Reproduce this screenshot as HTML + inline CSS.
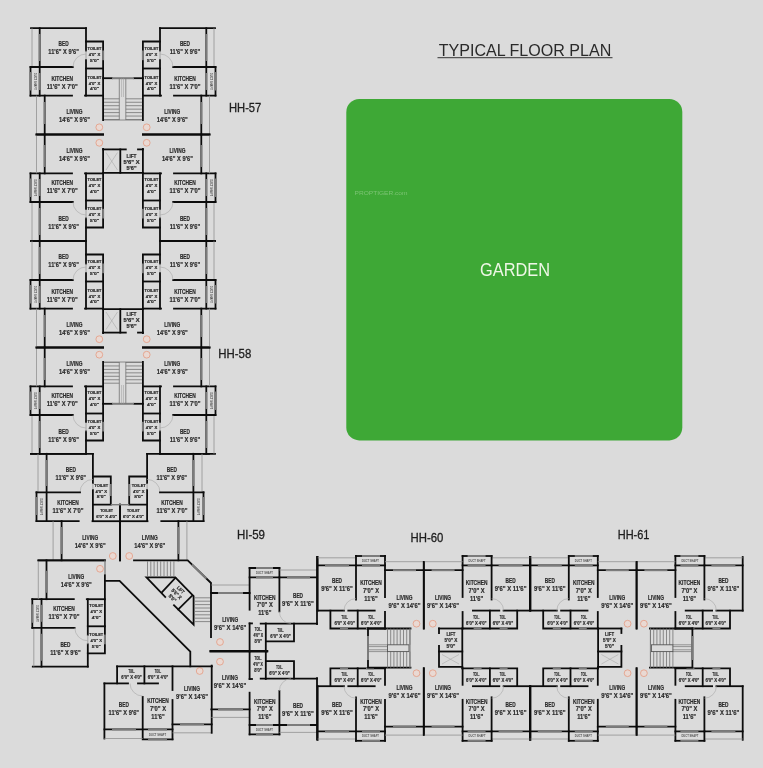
<!DOCTYPE html>
<html><head><meta charset="utf-8"><style>
html,body{margin:0;padding:0;background:#dbdbdb;}
body{width:763px;height:768px;position:relative;overflow:hidden;font-family:"Liberation Sans",sans-serif;}
svg{position:absolute;left:0;top:0;will-change:transform;}
svg text{font-family:"Liberation Sans",sans-serif;}
</style></head><body>
<svg width="763" height="768" viewBox="0 0 763 768">
<rect x="0" y="0" width="763" height="768" fill="#dbdbdb"/>
<rect x="346.3" y="98.9" width="336" height="341.5" rx="13" ry="13" fill="#3ea836"/>
<text x="515" y="275.8" font-size="17.5" fill="#eef7e6" text-anchor="middle" textLength="70" lengthAdjust="spacingAndGlyphs">GARDEN</text>
<text x="354.5" y="195" font-size="6" fill="#7cc474" textLength="53" lengthAdjust="spacingAndGlyphs">PROPTIGER.com</text>
<text x="525" y="55.6" font-size="16.5" fill="#2a2a2a" text-anchor="middle" textLength="172.6" lengthAdjust="spacingAndGlyphs">TYPICAL FLOOR PLAN</text>
<line x1="437.5" y1="57.7" x2="612.5" y2="57.7" stroke="#555" stroke-width="1.2"/>
<text x="229" y="111.6" font-size="12.2" fill="#1e1e1e" stroke="#1e1e1e" stroke-width="0.3" textLength="32.3" lengthAdjust="spacingAndGlyphs">HH-57</text>
<text x="218.3" y="357.7" font-size="12.2" fill="#1e1e1e" stroke="#1e1e1e" stroke-width="0.3" textLength="33" lengthAdjust="spacingAndGlyphs">HH-58</text>
<text x="236.9" y="538.9" font-size="12.2" fill="#1e1e1e" stroke="#1e1e1e" stroke-width="0.3" textLength="28.1" lengthAdjust="spacingAndGlyphs">HI-59</text>
<text x="410.6" y="542.3" font-size="12.2" fill="#1e1e1e" stroke="#1e1e1e" stroke-width="0.3" textLength="32.8" lengthAdjust="spacingAndGlyphs">HH-60</text>
<text x="617.7" y="538.9" font-size="12.2" fill="#1e1e1e" stroke="#1e1e1e" stroke-width="0.3" textLength="31.8" lengthAdjust="spacingAndGlyphs">HH-61</text>
<path d="M31,28.2 L86,28.2" fill="none" stroke="#0c0c0c" stroke-width="1.8" stroke-linecap="square" stroke-linejoin="miter"/>
<line x1="32" y1="28.2" x2="32" y2="67" stroke="#929292" stroke-width="0.8" stroke-linecap="butt"/>
<path d="M39.7,28.2 L39.7,95.6" fill="none" stroke="#0c0c0c" stroke-width="1.8" stroke-linecap="square" stroke-linejoin="miter"/>
<line x1="39.7" y1="34" x2="39.7" y2="61" stroke="#7c7c7c" stroke-width="2.0" stroke-linecap="butt"/>
<line x1="39.7" y1="73" x2="39.7" y2="90" stroke="#7c7c7c" stroke-width="2.0" stroke-linecap="butt"/>
<path d="M30.5,67 L72.8,67" fill="none" stroke="#0c0c0c" stroke-width="1.8" stroke-linecap="square" stroke-linejoin="miter"/>
<path d="M30.5,67 L30.5,95.6" fill="none" stroke="#0c0c0c" stroke-width="1.8" stroke-linecap="square" stroke-linejoin="miter"/>
<line x1="30.5" y1="72" x2="30.5" y2="90.5" stroke="#7c7c7c" stroke-width="2.0" stroke-linecap="butt"/>
<text transform="translate(33.8,81.3) rotate(90)" x="0" y="0" font-size="3.4" font-weight="bold" fill="#555" text-anchor="middle" textLength="17" lengthAdjust="spacingAndGlyphs">DUCT SHAFT</text>
<path d="M30.5,95.6 L72,95.6" fill="none" stroke="#0c0c0c" stroke-width="1.8" stroke-linecap="square" stroke-linejoin="miter"/>
<path d="M86,28.2 L86,50.5" fill="none" stroke="#0c0c0c" stroke-width="1.8" stroke-linecap="square" stroke-linejoin="miter"/>
<path d="M86,60 L86,95.6" fill="none" stroke="#0c0c0c" stroke-width="1.8" stroke-linecap="square" stroke-linejoin="miter"/>
<line x1="86" y1="50.5" x2="86" y2="60" stroke="#929292" stroke-width="0.8" stroke-linecap="butt"/>
<path d="M73,67 A13,13 0 0 1 86,54" fill="none" stroke="#a8a8a8" stroke-width="0.6"/>
<path d="M86,41.5 L103.1,41.5 L103.1,120" fill="none" stroke="#0c0c0c" stroke-width="1.8" stroke-linecap="square" stroke-linejoin="miter"/>
<line x1="103.1" y1="50.5" x2="103.1" y2="60.2" stroke="#7c7c7c" stroke-width="2.0" stroke-linecap="butt"/>
<path d="M86,68.5 L103.1,68.5" fill="none" stroke="#0c0c0c" stroke-width="1.8" stroke-linecap="square" stroke-linejoin="miter"/>
<path d="M85,95.6 L103.1,95.6" fill="none" stroke="#0c0c0c" stroke-width="1.8" stroke-linecap="square" stroke-linejoin="miter"/>
<path d="M44.7,95.6 L44.7,134.5" fill="none" stroke="#0c0c0c" stroke-width="1.8" stroke-linecap="square" stroke-linejoin="miter"/>
<line x1="44.7" y1="102" x2="44.7" y2="124" stroke="#7c7c7c" stroke-width="2.0" stroke-linecap="butt"/>
<line x1="36.5" y1="95.6" x2="36.5" y2="134.5" stroke="#929292" stroke-width="0.8" stroke-linecap="butt"/>
<path d="M36.5,134.5 L103.1,134.5" fill="none" stroke="#0c0c0c" stroke-width="1.8" stroke-linecap="square" stroke-linejoin="miter"/>
<path d="M31,240.8 L86,240.8" fill="none" stroke="#0c0c0c" stroke-width="1.8" stroke-linecap="square" stroke-linejoin="miter"/>
<line x1="32" y1="240.8" x2="32" y2="202" stroke="#929292" stroke-width="0.8" stroke-linecap="butt"/>
<path d="M39.7,240.8 L39.7,173.4" fill="none" stroke="#0c0c0c" stroke-width="1.8" stroke-linecap="square" stroke-linejoin="miter"/>
<line x1="39.7" y1="235" x2="39.7" y2="208" stroke="#7c7c7c" stroke-width="2.0" stroke-linecap="butt"/>
<line x1="39.7" y1="196" x2="39.7" y2="179" stroke="#7c7c7c" stroke-width="2.0" stroke-linecap="butt"/>
<path d="M30.5,202 L72.8,202" fill="none" stroke="#0c0c0c" stroke-width="1.8" stroke-linecap="square" stroke-linejoin="miter"/>
<path d="M30.5,202 L30.5,173.4" fill="none" stroke="#0c0c0c" stroke-width="1.8" stroke-linecap="square" stroke-linejoin="miter"/>
<line x1="30.5" y1="197" x2="30.5" y2="178.5" stroke="#7c7c7c" stroke-width="2.0" stroke-linecap="butt"/>
<text transform="translate(33.8,187.7) rotate(90)" x="0" y="0" font-size="3.4" font-weight="bold" fill="#555" text-anchor="middle" textLength="17" lengthAdjust="spacingAndGlyphs">DUCT SHAFT</text>
<path d="M30.5,173.4 L72,173.4" fill="none" stroke="#0c0c0c" stroke-width="1.8" stroke-linecap="square" stroke-linejoin="miter"/>
<path d="M86,240.8 L86,218.5" fill="none" stroke="#0c0c0c" stroke-width="1.8" stroke-linecap="square" stroke-linejoin="miter"/>
<path d="M86,209 L86,173.4" fill="none" stroke="#0c0c0c" stroke-width="1.8" stroke-linecap="square" stroke-linejoin="miter"/>
<line x1="86" y1="218.5" x2="86" y2="209" stroke="#929292" stroke-width="0.8" stroke-linecap="butt"/>
<path d="M73,202 A13,13 0 0 0 86,215" fill="none" stroke="#a8a8a8" stroke-width="0.6"/>
<path d="M86,227.5 L103.1,227.5 L103.1,149" fill="none" stroke="#0c0c0c" stroke-width="1.8" stroke-linecap="square" stroke-linejoin="miter"/>
<line x1="103.1" y1="218.5" x2="103.1" y2="208.8" stroke="#7c7c7c" stroke-width="2.0" stroke-linecap="butt"/>
<path d="M86,200.5 L103.1,200.5" fill="none" stroke="#0c0c0c" stroke-width="1.8" stroke-linecap="square" stroke-linejoin="miter"/>
<path d="M85,173.4 L103.1,173.4" fill="none" stroke="#0c0c0c" stroke-width="1.8" stroke-linecap="square" stroke-linejoin="miter"/>
<path d="M44.7,173.4 L44.7,134.5" fill="none" stroke="#0c0c0c" stroke-width="1.8" stroke-linecap="square" stroke-linejoin="miter"/>
<line x1="44.7" y1="167" x2="44.7" y2="145" stroke="#7c7c7c" stroke-width="2.0" stroke-linecap="butt"/>
<line x1="36.5" y1="173.4" x2="36.5" y2="134.5" stroke="#929292" stroke-width="0.8" stroke-linecap="butt"/>
<path d="M36.5,134.5 L103.1,134.5" fill="none" stroke="#0c0c0c" stroke-width="1.8" stroke-linecap="square" stroke-linejoin="miter"/>
<path d="M215,28.2 L160,28.2" fill="none" stroke="#0c0c0c" stroke-width="1.8" stroke-linecap="square" stroke-linejoin="miter"/>
<line x1="214" y1="28.2" x2="214" y2="67" stroke="#929292" stroke-width="0.8" stroke-linecap="butt"/>
<path d="M206.3,28.2 L206.3,95.6" fill="none" stroke="#0c0c0c" stroke-width="1.8" stroke-linecap="square" stroke-linejoin="miter"/>
<line x1="206.3" y1="34" x2="206.3" y2="61" stroke="#7c7c7c" stroke-width="2.0" stroke-linecap="butt"/>
<line x1="206.3" y1="73" x2="206.3" y2="90" stroke="#7c7c7c" stroke-width="2.0" stroke-linecap="butt"/>
<path d="M215.5,67 L173.2,67" fill="none" stroke="#0c0c0c" stroke-width="1.8" stroke-linecap="square" stroke-linejoin="miter"/>
<path d="M215.5,67 L215.5,95.6" fill="none" stroke="#0c0c0c" stroke-width="1.8" stroke-linecap="square" stroke-linejoin="miter"/>
<line x1="215.5" y1="72" x2="215.5" y2="90.5" stroke="#7c7c7c" stroke-width="2.0" stroke-linecap="butt"/>
<text transform="translate(209.8,81.3) rotate(90)" x="0" y="0" font-size="3.4" font-weight="bold" fill="#555" text-anchor="middle" textLength="17" lengthAdjust="spacingAndGlyphs">DUCT SHAFT</text>
<path d="M215.5,95.6 L174,95.6" fill="none" stroke="#0c0c0c" stroke-width="1.8" stroke-linecap="square" stroke-linejoin="miter"/>
<path d="M160,28.2 L160,50.5" fill="none" stroke="#0c0c0c" stroke-width="1.8" stroke-linecap="square" stroke-linejoin="miter"/>
<path d="M160,60 L160,95.6" fill="none" stroke="#0c0c0c" stroke-width="1.8" stroke-linecap="square" stroke-linejoin="miter"/>
<line x1="160" y1="50.5" x2="160" y2="60" stroke="#929292" stroke-width="0.8" stroke-linecap="butt"/>
<path d="M173,67 A13,13 0 0 0 160,54" fill="none" stroke="#a8a8a8" stroke-width="0.6"/>
<path d="M160,41.5 L142.9,41.5 L142.9,120" fill="none" stroke="#0c0c0c" stroke-width="1.8" stroke-linecap="square" stroke-linejoin="miter"/>
<line x1="142.9" y1="50.5" x2="142.9" y2="60.2" stroke="#7c7c7c" stroke-width="2.0" stroke-linecap="butt"/>
<path d="M160,68.5 L142.9,68.5" fill="none" stroke="#0c0c0c" stroke-width="1.8" stroke-linecap="square" stroke-linejoin="miter"/>
<path d="M161,95.6 L142.9,95.6" fill="none" stroke="#0c0c0c" stroke-width="1.8" stroke-linecap="square" stroke-linejoin="miter"/>
<path d="M201.3,95.6 L201.3,134.5" fill="none" stroke="#0c0c0c" stroke-width="1.8" stroke-linecap="square" stroke-linejoin="miter"/>
<line x1="201.3" y1="102" x2="201.3" y2="124" stroke="#7c7c7c" stroke-width="2.0" stroke-linecap="butt"/>
<line x1="209.5" y1="95.6" x2="209.5" y2="134.5" stroke="#929292" stroke-width="0.8" stroke-linecap="butt"/>
<path d="M209.5,134.5 L142.9,134.5" fill="none" stroke="#0c0c0c" stroke-width="1.8" stroke-linecap="square" stroke-linejoin="miter"/>
<path d="M215,240.8 L160,240.8" fill="none" stroke="#0c0c0c" stroke-width="1.8" stroke-linecap="square" stroke-linejoin="miter"/>
<line x1="214" y1="240.8" x2="214" y2="202" stroke="#929292" stroke-width="0.8" stroke-linecap="butt"/>
<path d="M206.3,240.8 L206.3,173.4" fill="none" stroke="#0c0c0c" stroke-width="1.8" stroke-linecap="square" stroke-linejoin="miter"/>
<line x1="206.3" y1="235" x2="206.3" y2="208" stroke="#7c7c7c" stroke-width="2.0" stroke-linecap="butt"/>
<line x1="206.3" y1="196" x2="206.3" y2="179" stroke="#7c7c7c" stroke-width="2.0" stroke-linecap="butt"/>
<path d="M215.5,202 L173.2,202" fill="none" stroke="#0c0c0c" stroke-width="1.8" stroke-linecap="square" stroke-linejoin="miter"/>
<path d="M215.5,202 L215.5,173.4" fill="none" stroke="#0c0c0c" stroke-width="1.8" stroke-linecap="square" stroke-linejoin="miter"/>
<line x1="215.5" y1="197" x2="215.5" y2="178.5" stroke="#7c7c7c" stroke-width="2.0" stroke-linecap="butt"/>
<text transform="translate(209.8,187.7) rotate(90)" x="0" y="0" font-size="3.4" font-weight="bold" fill="#555" text-anchor="middle" textLength="17" lengthAdjust="spacingAndGlyphs">DUCT SHAFT</text>
<path d="M215.5,173.4 L174,173.4" fill="none" stroke="#0c0c0c" stroke-width="1.8" stroke-linecap="square" stroke-linejoin="miter"/>
<path d="M160,240.8 L160,218.5" fill="none" stroke="#0c0c0c" stroke-width="1.8" stroke-linecap="square" stroke-linejoin="miter"/>
<path d="M160,209 L160,173.4" fill="none" stroke="#0c0c0c" stroke-width="1.8" stroke-linecap="square" stroke-linejoin="miter"/>
<line x1="160" y1="218.5" x2="160" y2="209" stroke="#929292" stroke-width="0.8" stroke-linecap="butt"/>
<path d="M173,202 A13,13 0 0 1 160,215" fill="none" stroke="#a8a8a8" stroke-width="0.6"/>
<path d="M160,227.5 L142.9,227.5 L142.9,149" fill="none" stroke="#0c0c0c" stroke-width="1.8" stroke-linecap="square" stroke-linejoin="miter"/>
<line x1="142.9" y1="218.5" x2="142.9" y2="208.8" stroke="#7c7c7c" stroke-width="2.0" stroke-linecap="butt"/>
<path d="M160,200.5 L142.9,200.5" fill="none" stroke="#0c0c0c" stroke-width="1.8" stroke-linecap="square" stroke-linejoin="miter"/>
<path d="M161,173.4 L142.9,173.4" fill="none" stroke="#0c0c0c" stroke-width="1.8" stroke-linecap="square" stroke-linejoin="miter"/>
<path d="M201.3,173.4 L201.3,134.5" fill="none" stroke="#0c0c0c" stroke-width="1.8" stroke-linecap="square" stroke-linejoin="miter"/>
<line x1="201.3" y1="167" x2="201.3" y2="145" stroke="#7c7c7c" stroke-width="2.0" stroke-linecap="butt"/>
<line x1="209.5" y1="173.4" x2="209.5" y2="134.5" stroke="#929292" stroke-width="0.8" stroke-linecap="butt"/>
<path d="M209.5,134.5 L142.9,134.5" fill="none" stroke="#0c0c0c" stroke-width="1.8" stroke-linecap="square" stroke-linejoin="miter"/>
<text x="63.6" y="46.4" font-size="6.6" font-weight="bold" fill="#2a2a2a" stroke="#2a2a2a" stroke-width="0.2" text-anchor="middle" textLength="10" lengthAdjust="spacingAndGlyphs">BED</text>
<text x="63.6" y="54.4" font-size="7.4" font-weight="bold" fill="#2a2a2a" stroke="#2a2a2a" stroke-width="0.2" text-anchor="middle" textLength="30.5" lengthAdjust="spacingAndGlyphs">11'6&quot; X 9'6&quot;</text>
<text x="62.2" y="80.7" font-size="6.6" font-weight="bold" fill="#2a2a2a" stroke="#2a2a2a" stroke-width="0.2" text-anchor="middle" textLength="21.6" lengthAdjust="spacingAndGlyphs">KITCHEN</text>
<text x="62.2" y="88.7" font-size="7.4" font-weight="bold" fill="#2a2a2a" stroke="#2a2a2a" stroke-width="0.2" text-anchor="middle" textLength="31" lengthAdjust="spacingAndGlyphs">11'6&quot; X 7'0&quot;</text>
<text x="74.5" y="113.7" font-size="6.6" font-weight="bold" fill="#2a2a2a" stroke="#2a2a2a" stroke-width="0.2" text-anchor="middle" textLength="16" lengthAdjust="spacingAndGlyphs">LIVING</text>
<text x="74.5" y="121.7" font-size="7.4" font-weight="bold" fill="#2a2a2a" stroke="#2a2a2a" stroke-width="0.2" text-anchor="middle" textLength="31" lengthAdjust="spacingAndGlyphs">14'6&quot; X 9'6&quot;</text>
<text x="94.5" y="50.05" font-size="4.3" font-weight="bold" fill="#2a2a2a" stroke="#2a2a2a" stroke-width="0.2" text-anchor="middle" textLength="13.9" lengthAdjust="spacingAndGlyphs">TOILET</text>
<text x="94.5" y="55.75" font-size="4.3" font-weight="bold" fill="#2a2a2a" stroke="#2a2a2a" stroke-width="0.2" text-anchor="middle" textLength="11.5" lengthAdjust="spacingAndGlyphs">4'0&quot; X</text>
<text x="94.5" y="61.65" font-size="4.3" font-weight="bold" fill="#2a2a2a" stroke="#2a2a2a" stroke-width="0.2" text-anchor="middle" textLength="8.9" lengthAdjust="spacingAndGlyphs">5'0&quot;</text>
<text x="94.5" y="78.85" font-size="4.3" font-weight="bold" fill="#2a2a2a" stroke="#2a2a2a" stroke-width="0.2" text-anchor="middle" textLength="13.9" lengthAdjust="spacingAndGlyphs">TOILET</text>
<text x="94.5" y="84.55" font-size="4.3" font-weight="bold" fill="#2a2a2a" stroke="#2a2a2a" stroke-width="0.2" text-anchor="middle" textLength="11.5" lengthAdjust="spacingAndGlyphs">4'0&quot; X</text>
<text x="94.5" y="90.45" font-size="4.3" font-weight="bold" fill="#2a2a2a" stroke="#2a2a2a" stroke-width="0.2" text-anchor="middle" textLength="8.9" lengthAdjust="spacingAndGlyphs">4'0&quot;</text>
<text x="63.6" y="221" font-size="6.6" font-weight="bold" fill="#2a2a2a" stroke="#2a2a2a" stroke-width="0.2" text-anchor="middle" textLength="10" lengthAdjust="spacingAndGlyphs">BED</text>
<text x="63.6" y="229" font-size="7.4" font-weight="bold" fill="#2a2a2a" stroke="#2a2a2a" stroke-width="0.2" text-anchor="middle" textLength="30.5" lengthAdjust="spacingAndGlyphs">11'6&quot; X 9'6&quot;</text>
<text x="62.2" y="185.3" font-size="6.6" font-weight="bold" fill="#2a2a2a" stroke="#2a2a2a" stroke-width="0.2" text-anchor="middle" textLength="21.6" lengthAdjust="spacingAndGlyphs">KITCHEN</text>
<text x="62.2" y="193.3" font-size="7.4" font-weight="bold" fill="#2a2a2a" stroke="#2a2a2a" stroke-width="0.2" text-anchor="middle" textLength="31" lengthAdjust="spacingAndGlyphs">11'6&quot; X 7'0&quot;</text>
<text x="74.5" y="153" font-size="6.6" font-weight="bold" fill="#2a2a2a" stroke="#2a2a2a" stroke-width="0.2" text-anchor="middle" textLength="16" lengthAdjust="spacingAndGlyphs">LIVING</text>
<text x="74.5" y="161" font-size="7.4" font-weight="bold" fill="#2a2a2a" stroke="#2a2a2a" stroke-width="0.2" text-anchor="middle" textLength="31" lengthAdjust="spacingAndGlyphs">14'6&quot; X 9'6&quot;</text>
<text x="94.5" y="210.25" font-size="4.3" font-weight="bold" fill="#2a2a2a" stroke="#2a2a2a" stroke-width="0.2" text-anchor="middle" textLength="13.9" lengthAdjust="spacingAndGlyphs">TOILET</text>
<text x="94.5" y="215.95" font-size="4.3" font-weight="bold" fill="#2a2a2a" stroke="#2a2a2a" stroke-width="0.2" text-anchor="middle" textLength="11.5" lengthAdjust="spacingAndGlyphs">4'0&quot; X</text>
<text x="94.5" y="221.85" font-size="4.3" font-weight="bold" fill="#2a2a2a" stroke="#2a2a2a" stroke-width="0.2" text-anchor="middle" textLength="8.9" lengthAdjust="spacingAndGlyphs">5'0&quot;</text>
<text x="94.5" y="181.45" font-size="4.3" font-weight="bold" fill="#2a2a2a" stroke="#2a2a2a" stroke-width="0.2" text-anchor="middle" textLength="13.9" lengthAdjust="spacingAndGlyphs">TOILET</text>
<text x="94.5" y="187.15" font-size="4.3" font-weight="bold" fill="#2a2a2a" stroke="#2a2a2a" stroke-width="0.2" text-anchor="middle" textLength="11.5" lengthAdjust="spacingAndGlyphs">4'0&quot; X</text>
<text x="94.5" y="193.05" font-size="4.3" font-weight="bold" fill="#2a2a2a" stroke="#2a2a2a" stroke-width="0.2" text-anchor="middle" textLength="8.9" lengthAdjust="spacingAndGlyphs">4'0&quot;</text>
<text x="184.9" y="46.4" font-size="6.6" font-weight="bold" fill="#2a2a2a" stroke="#2a2a2a" stroke-width="0.2" text-anchor="middle" textLength="10" lengthAdjust="spacingAndGlyphs">BED</text>
<text x="184.9" y="54.4" font-size="7.4" font-weight="bold" fill="#2a2a2a" stroke="#2a2a2a" stroke-width="0.2" text-anchor="middle" textLength="30.5" lengthAdjust="spacingAndGlyphs">11'6&quot; X 9'6&quot;</text>
<text x="185" y="80.7" font-size="6.6" font-weight="bold" fill="#2a2a2a" stroke="#2a2a2a" stroke-width="0.2" text-anchor="middle" textLength="21.6" lengthAdjust="spacingAndGlyphs">KITCHEN</text>
<text x="185" y="88.7" font-size="7.4" font-weight="bold" fill="#2a2a2a" stroke="#2a2a2a" stroke-width="0.2" text-anchor="middle" textLength="31" lengthAdjust="spacingAndGlyphs">11'6&quot; X 7'0&quot;</text>
<text x="172.3" y="113.7" font-size="6.6" font-weight="bold" fill="#2a2a2a" stroke="#2a2a2a" stroke-width="0.2" text-anchor="middle" textLength="16" lengthAdjust="spacingAndGlyphs">LIVING</text>
<text x="172.3" y="121.7" font-size="7.4" font-weight="bold" fill="#2a2a2a" stroke="#2a2a2a" stroke-width="0.2" text-anchor="middle" textLength="31" lengthAdjust="spacingAndGlyphs">14'6&quot; X 9'6&quot;</text>
<text x="151.5" y="50.05" font-size="4.3" font-weight="bold" fill="#2a2a2a" stroke="#2a2a2a" stroke-width="0.2" text-anchor="middle" textLength="13.9" lengthAdjust="spacingAndGlyphs">TOILET</text>
<text x="151.5" y="55.75" font-size="4.3" font-weight="bold" fill="#2a2a2a" stroke="#2a2a2a" stroke-width="0.2" text-anchor="middle" textLength="11.5" lengthAdjust="spacingAndGlyphs">4'0&quot; X</text>
<text x="151.5" y="61.65" font-size="4.3" font-weight="bold" fill="#2a2a2a" stroke="#2a2a2a" stroke-width="0.2" text-anchor="middle" textLength="8.9" lengthAdjust="spacingAndGlyphs">5'0&quot;</text>
<text x="151.5" y="78.85" font-size="4.3" font-weight="bold" fill="#2a2a2a" stroke="#2a2a2a" stroke-width="0.2" text-anchor="middle" textLength="13.9" lengthAdjust="spacingAndGlyphs">TOILET</text>
<text x="151.5" y="84.55" font-size="4.3" font-weight="bold" fill="#2a2a2a" stroke="#2a2a2a" stroke-width="0.2" text-anchor="middle" textLength="11.5" lengthAdjust="spacingAndGlyphs">4'0&quot; X</text>
<text x="151.5" y="90.45" font-size="4.3" font-weight="bold" fill="#2a2a2a" stroke="#2a2a2a" stroke-width="0.2" text-anchor="middle" textLength="8.9" lengthAdjust="spacingAndGlyphs">4'0&quot;</text>
<text x="184.9" y="221" font-size="6.6" font-weight="bold" fill="#2a2a2a" stroke="#2a2a2a" stroke-width="0.2" text-anchor="middle" textLength="10" lengthAdjust="spacingAndGlyphs">BED</text>
<text x="184.9" y="229" font-size="7.4" font-weight="bold" fill="#2a2a2a" stroke="#2a2a2a" stroke-width="0.2" text-anchor="middle" textLength="30.5" lengthAdjust="spacingAndGlyphs">11'6&quot; X 9'6&quot;</text>
<text x="185" y="185.3" font-size="6.6" font-weight="bold" fill="#2a2a2a" stroke="#2a2a2a" stroke-width="0.2" text-anchor="middle" textLength="21.6" lengthAdjust="spacingAndGlyphs">KITCHEN</text>
<text x="185" y="193.3" font-size="7.4" font-weight="bold" fill="#2a2a2a" stroke="#2a2a2a" stroke-width="0.2" text-anchor="middle" textLength="31" lengthAdjust="spacingAndGlyphs">11'6&quot; X 7'0&quot;</text>
<text x="177.4" y="153" font-size="6.6" font-weight="bold" fill="#2a2a2a" stroke="#2a2a2a" stroke-width="0.2" text-anchor="middle" textLength="16" lengthAdjust="spacingAndGlyphs">LIVING</text>
<text x="177.4" y="161" font-size="7.4" font-weight="bold" fill="#2a2a2a" stroke="#2a2a2a" stroke-width="0.2" text-anchor="middle" textLength="31" lengthAdjust="spacingAndGlyphs">14'6&quot; X 9'6&quot;</text>
<text x="151.5" y="210.25" font-size="4.3" font-weight="bold" fill="#2a2a2a" stroke="#2a2a2a" stroke-width="0.2" text-anchor="middle" textLength="13.9" lengthAdjust="spacingAndGlyphs">TOILET</text>
<text x="151.5" y="215.95" font-size="4.3" font-weight="bold" fill="#2a2a2a" stroke="#2a2a2a" stroke-width="0.2" text-anchor="middle" textLength="11.5" lengthAdjust="spacingAndGlyphs">4'0&quot; X</text>
<text x="151.5" y="221.85" font-size="4.3" font-weight="bold" fill="#2a2a2a" stroke="#2a2a2a" stroke-width="0.2" text-anchor="middle" textLength="8.9" lengthAdjust="spacingAndGlyphs">5'0&quot;</text>
<text x="151.5" y="181.45" font-size="4.3" font-weight="bold" fill="#2a2a2a" stroke="#2a2a2a" stroke-width="0.2" text-anchor="middle" textLength="13.9" lengthAdjust="spacingAndGlyphs">TOILET</text>
<text x="151.5" y="187.15" font-size="4.3" font-weight="bold" fill="#2a2a2a" stroke="#2a2a2a" stroke-width="0.2" text-anchor="middle" textLength="11.5" lengthAdjust="spacingAndGlyphs">4'0&quot; X</text>
<text x="151.5" y="193.05" font-size="4.3" font-weight="bold" fill="#2a2a2a" stroke="#2a2a2a" stroke-width="0.2" text-anchor="middle" textLength="8.9" lengthAdjust="spacingAndGlyphs">4'0&quot;</text>
<path d="M103.1,78.2 L112,78.2" fill="none" stroke="#0c0c0c" stroke-width="1.8" stroke-linecap="square" stroke-linejoin="miter"/>
<path d="M134,78.2 L143,78.2" fill="none" stroke="#0c0c0c" stroke-width="1.8" stroke-linecap="square" stroke-linejoin="miter"/>
<line x1="112" y1="78.2" x2="134" y2="78.2" stroke="#7c7c7c" stroke-width="2.0" stroke-linecap="butt"/>
<line x1="104" y1="98.8" x2="119.3" y2="98.8" stroke="#747474" stroke-width="0.8" stroke-linecap="butt"/>
<line x1="125.8" y1="98.8" x2="142.1" y2="98.8" stroke="#747474" stroke-width="0.8" stroke-linecap="butt"/>
<line x1="104" y1="102.25" x2="119.3" y2="102.25" stroke="#747474" stroke-width="0.8" stroke-linecap="butt"/>
<line x1="125.8" y1="102.25" x2="142.1" y2="102.25" stroke="#747474" stroke-width="0.8" stroke-linecap="butt"/>
<line x1="104" y1="105.7" x2="119.3" y2="105.7" stroke="#747474" stroke-width="0.8" stroke-linecap="butt"/>
<line x1="125.8" y1="105.7" x2="142.1" y2="105.7" stroke="#747474" stroke-width="0.8" stroke-linecap="butt"/>
<line x1="104" y1="109.15" x2="119.3" y2="109.15" stroke="#747474" stroke-width="0.8" stroke-linecap="butt"/>
<line x1="125.8" y1="109.15" x2="142.1" y2="109.15" stroke="#747474" stroke-width="0.8" stroke-linecap="butt"/>
<line x1="104" y1="112.6" x2="119.3" y2="112.6" stroke="#747474" stroke-width="0.8" stroke-linecap="butt"/>
<line x1="125.8" y1="112.6" x2="142.1" y2="112.6" stroke="#747474" stroke-width="0.8" stroke-linecap="butt"/>
<line x1="104" y1="116.05" x2="119.3" y2="116.05" stroke="#747474" stroke-width="0.8" stroke-linecap="butt"/>
<line x1="125.8" y1="116.05" x2="142.1" y2="116.05" stroke="#747474" stroke-width="0.8" stroke-linecap="butt"/>
<line x1="104" y1="119.5" x2="119.3" y2="119.5" stroke="#747474" stroke-width="0.8" stroke-linecap="butt"/>
<line x1="125.8" y1="119.5" x2="142.1" y2="119.5" stroke="#747474" stroke-width="0.8" stroke-linecap="butt"/>
<line x1="104" y1="120" x2="142.1" y2="120" stroke="#747474" stroke-width="0.8" stroke-linecap="butt"/>
<line x1="119.3" y1="78.2" x2="119.3" y2="120" stroke="#747474" stroke-width="0.8" stroke-linecap="butt"/>
<line x1="125.8" y1="78.2" x2="125.8" y2="120" stroke="#747474" stroke-width="0.8" stroke-linecap="butt"/>
<line x1="121.6" y1="78.2" x2="121.6" y2="97" stroke="#9a9a9a" stroke-width="0.5" stroke-linecap="butt"/>
<line x1="123.5" y1="78.2" x2="123.5" y2="97" stroke="#9a9a9a" stroke-width="0.5" stroke-linecap="butt"/>
<path d="M103.1,149.4 L125.8,149.4" fill="none" stroke="#0c0c0c" stroke-width="1.8" stroke-linecap="square" stroke-linejoin="miter"/>
<path d="M138,149.4 L143,149.4" fill="none" stroke="#0c0c0c" stroke-width="1.8" stroke-linecap="square" stroke-linejoin="miter"/>
<path d="M103.1,172.8 L143,172.8" fill="none" stroke="#0c0c0c" stroke-width="1.8" stroke-linecap="square" stroke-linejoin="miter"/>
<path d="M120.3,149.4 L120.3,172.8" fill="none" stroke="#0c0c0c" stroke-width="1.8" stroke-linecap="square" stroke-linejoin="miter"/>
<line x1="106" y1="152.5" x2="117.5" y2="170" stroke="#a0a0a0" stroke-width="0.5" stroke-linecap="butt"/>
<line x1="117.5" y1="152.5" x2="106" y2="170" stroke="#a0a0a0" stroke-width="0.5" stroke-linecap="butt"/>
<circle cx="99.3" cy="127.3" r="3.4" fill="#e9d9d3" stroke="#e49a82" stroke-width="0.8"/>
<circle cx="99.3" cy="142.8" r="3.4" fill="#e9d9d3" stroke="#e49a82" stroke-width="0.8"/>
<circle cx="146.7" cy="127.3" r="3.4" fill="#e9d9d3" stroke="#e49a82" stroke-width="0.8"/>
<circle cx="146.7" cy="142.8" r="3.4" fill="#e9d9d3" stroke="#e49a82" stroke-width="0.8"/>
<text x="131.5" y="157.5" font-size="5.2" font-weight="bold" fill="#2a2a2a" stroke="#2a2a2a" stroke-width="0.2" text-anchor="middle" textLength="10" lengthAdjust="spacingAndGlyphs">LIFT</text>
<text x="131.5" y="164" font-size="5.2" font-weight="bold" fill="#2a2a2a" stroke="#2a2a2a" stroke-width="0.2" text-anchor="middle" textLength="16" lengthAdjust="spacingAndGlyphs">5'6&quot; X</text>
<text x="131.5" y="170.3" font-size="5.2" font-weight="bold" fill="#2a2a2a" stroke="#2a2a2a" stroke-width="0.2" text-anchor="middle" textLength="10" lengthAdjust="spacingAndGlyphs">5'6&quot;</text>
<path d="M31,453.8 L86,453.8" fill="none" stroke="#0c0c0c" stroke-width="1.8" stroke-linecap="square" stroke-linejoin="miter"/>
<line x1="32" y1="453.8" x2="32" y2="415" stroke="#929292" stroke-width="0.8" stroke-linecap="butt"/>
<path d="M39.7,453.8 L39.7,386.4" fill="none" stroke="#0c0c0c" stroke-width="1.8" stroke-linecap="square" stroke-linejoin="miter"/>
<line x1="39.7" y1="448" x2="39.7" y2="421" stroke="#7c7c7c" stroke-width="2.0" stroke-linecap="butt"/>
<line x1="39.7" y1="409" x2="39.7" y2="392" stroke="#7c7c7c" stroke-width="2.0" stroke-linecap="butt"/>
<path d="M30.5,415 L72.8,415" fill="none" stroke="#0c0c0c" stroke-width="1.8" stroke-linecap="square" stroke-linejoin="miter"/>
<path d="M30.5,415 L30.5,386.4" fill="none" stroke="#0c0c0c" stroke-width="1.8" stroke-linecap="square" stroke-linejoin="miter"/>
<line x1="30.5" y1="410" x2="30.5" y2="391.5" stroke="#7c7c7c" stroke-width="2.0" stroke-linecap="butt"/>
<text transform="translate(33.8,400.7) rotate(90)" x="0" y="0" font-size="3.4" font-weight="bold" fill="#555" text-anchor="middle" textLength="17" lengthAdjust="spacingAndGlyphs">DUCT SHAFT</text>
<path d="M30.5,386.4 L72,386.4" fill="none" stroke="#0c0c0c" stroke-width="1.8" stroke-linecap="square" stroke-linejoin="miter"/>
<path d="M86,453.8 L86,431.5" fill="none" stroke="#0c0c0c" stroke-width="1.8" stroke-linecap="square" stroke-linejoin="miter"/>
<path d="M86,422 L86,386.4" fill="none" stroke="#0c0c0c" stroke-width="1.8" stroke-linecap="square" stroke-linejoin="miter"/>
<line x1="86" y1="431.5" x2="86" y2="422" stroke="#929292" stroke-width="0.8" stroke-linecap="butt"/>
<path d="M73,415 A13,13 0 0 0 86,428" fill="none" stroke="#a8a8a8" stroke-width="0.6"/>
<path d="M86,440.5 L103.1,440.5 L103.1,362" fill="none" stroke="#0c0c0c" stroke-width="1.8" stroke-linecap="square" stroke-linejoin="miter"/>
<line x1="103.1" y1="431.5" x2="103.1" y2="421.8" stroke="#7c7c7c" stroke-width="2.0" stroke-linecap="butt"/>
<path d="M86,413.5 L103.1,413.5" fill="none" stroke="#0c0c0c" stroke-width="1.8" stroke-linecap="square" stroke-linejoin="miter"/>
<path d="M85,386.4 L103.1,386.4" fill="none" stroke="#0c0c0c" stroke-width="1.8" stroke-linecap="square" stroke-linejoin="miter"/>
<path d="M44.7,386.4 L44.7,347.5" fill="none" stroke="#0c0c0c" stroke-width="1.8" stroke-linecap="square" stroke-linejoin="miter"/>
<line x1="44.7" y1="380" x2="44.7" y2="358" stroke="#7c7c7c" stroke-width="2.0" stroke-linecap="butt"/>
<line x1="36.5" y1="386.4" x2="36.5" y2="347.5" stroke="#929292" stroke-width="0.8" stroke-linecap="butt"/>
<path d="M36.5,347.5 L103.1,347.5" fill="none" stroke="#0c0c0c" stroke-width="1.8" stroke-linecap="square" stroke-linejoin="miter"/>
<path d="M31,241.2 L86,241.2" fill="none" stroke="#0c0c0c" stroke-width="1.8" stroke-linecap="square" stroke-linejoin="miter"/>
<line x1="32" y1="241.2" x2="32" y2="280" stroke="#929292" stroke-width="0.8" stroke-linecap="butt"/>
<path d="M39.7,241.2 L39.7,308.6" fill="none" stroke="#0c0c0c" stroke-width="1.8" stroke-linecap="square" stroke-linejoin="miter"/>
<line x1="39.7" y1="247" x2="39.7" y2="274" stroke="#7c7c7c" stroke-width="2.0" stroke-linecap="butt"/>
<line x1="39.7" y1="286" x2="39.7" y2="303" stroke="#7c7c7c" stroke-width="2.0" stroke-linecap="butt"/>
<path d="M30.5,280 L72.8,280" fill="none" stroke="#0c0c0c" stroke-width="1.8" stroke-linecap="square" stroke-linejoin="miter"/>
<path d="M30.5,280 L30.5,308.6" fill="none" stroke="#0c0c0c" stroke-width="1.8" stroke-linecap="square" stroke-linejoin="miter"/>
<line x1="30.5" y1="285" x2="30.5" y2="303.5" stroke="#7c7c7c" stroke-width="2.0" stroke-linecap="butt"/>
<text transform="translate(33.8,294.3) rotate(90)" x="0" y="0" font-size="3.4" font-weight="bold" fill="#555" text-anchor="middle" textLength="17" lengthAdjust="spacingAndGlyphs">DUCT SHAFT</text>
<path d="M30.5,308.6 L72,308.6" fill="none" stroke="#0c0c0c" stroke-width="1.8" stroke-linecap="square" stroke-linejoin="miter"/>
<path d="M86,241.2 L86,263.5" fill="none" stroke="#0c0c0c" stroke-width="1.8" stroke-linecap="square" stroke-linejoin="miter"/>
<path d="M86,273 L86,308.6" fill="none" stroke="#0c0c0c" stroke-width="1.8" stroke-linecap="square" stroke-linejoin="miter"/>
<line x1="86" y1="263.5" x2="86" y2="273" stroke="#929292" stroke-width="0.8" stroke-linecap="butt"/>
<path d="M73,280 A13,13 0 0 1 86,267" fill="none" stroke="#a8a8a8" stroke-width="0.6"/>
<path d="M86,254.5 L103.1,254.5 L103.1,333" fill="none" stroke="#0c0c0c" stroke-width="1.8" stroke-linecap="square" stroke-linejoin="miter"/>
<line x1="103.1" y1="263.5" x2="103.1" y2="273.2" stroke="#7c7c7c" stroke-width="2.0" stroke-linecap="butt"/>
<path d="M86,281.5 L103.1,281.5" fill="none" stroke="#0c0c0c" stroke-width="1.8" stroke-linecap="square" stroke-linejoin="miter"/>
<path d="M85,308.6 L103.1,308.6" fill="none" stroke="#0c0c0c" stroke-width="1.8" stroke-linecap="square" stroke-linejoin="miter"/>
<path d="M44.7,308.6 L44.7,347.5" fill="none" stroke="#0c0c0c" stroke-width="1.8" stroke-linecap="square" stroke-linejoin="miter"/>
<line x1="44.7" y1="315" x2="44.7" y2="337" stroke="#7c7c7c" stroke-width="2.0" stroke-linecap="butt"/>
<line x1="36.5" y1="308.6" x2="36.5" y2="347.5" stroke="#929292" stroke-width="0.8" stroke-linecap="butt"/>
<path d="M36.5,347.5 L103.1,347.5" fill="none" stroke="#0c0c0c" stroke-width="1.8" stroke-linecap="square" stroke-linejoin="miter"/>
<path d="M215,453.8 L160,453.8" fill="none" stroke="#0c0c0c" stroke-width="1.8" stroke-linecap="square" stroke-linejoin="miter"/>
<line x1="214" y1="453.8" x2="214" y2="415" stroke="#929292" stroke-width="0.8" stroke-linecap="butt"/>
<path d="M206.3,453.8 L206.3,386.4" fill="none" stroke="#0c0c0c" stroke-width="1.8" stroke-linecap="square" stroke-linejoin="miter"/>
<line x1="206.3" y1="448" x2="206.3" y2="421" stroke="#7c7c7c" stroke-width="2.0" stroke-linecap="butt"/>
<line x1="206.3" y1="409" x2="206.3" y2="392" stroke="#7c7c7c" stroke-width="2.0" stroke-linecap="butt"/>
<path d="M215.5,415 L173.2,415" fill="none" stroke="#0c0c0c" stroke-width="1.8" stroke-linecap="square" stroke-linejoin="miter"/>
<path d="M215.5,415 L215.5,386.4" fill="none" stroke="#0c0c0c" stroke-width="1.8" stroke-linecap="square" stroke-linejoin="miter"/>
<line x1="215.5" y1="410" x2="215.5" y2="391.5" stroke="#7c7c7c" stroke-width="2.0" stroke-linecap="butt"/>
<text transform="translate(209.8,400.7) rotate(90)" x="0" y="0" font-size="3.4" font-weight="bold" fill="#555" text-anchor="middle" textLength="17" lengthAdjust="spacingAndGlyphs">DUCT SHAFT</text>
<path d="M215.5,386.4 L174,386.4" fill="none" stroke="#0c0c0c" stroke-width="1.8" stroke-linecap="square" stroke-linejoin="miter"/>
<path d="M160,453.8 L160,431.5" fill="none" stroke="#0c0c0c" stroke-width="1.8" stroke-linecap="square" stroke-linejoin="miter"/>
<path d="M160,422 L160,386.4" fill="none" stroke="#0c0c0c" stroke-width="1.8" stroke-linecap="square" stroke-linejoin="miter"/>
<line x1="160" y1="431.5" x2="160" y2="422" stroke="#929292" stroke-width="0.8" stroke-linecap="butt"/>
<path d="M173,415 A13,13 0 0 1 160,428" fill="none" stroke="#a8a8a8" stroke-width="0.6"/>
<path d="M160,440.5 L142.9,440.5 L142.9,362" fill="none" stroke="#0c0c0c" stroke-width="1.8" stroke-linecap="square" stroke-linejoin="miter"/>
<line x1="142.9" y1="431.5" x2="142.9" y2="421.8" stroke="#7c7c7c" stroke-width="2.0" stroke-linecap="butt"/>
<path d="M160,413.5 L142.9,413.5" fill="none" stroke="#0c0c0c" stroke-width="1.8" stroke-linecap="square" stroke-linejoin="miter"/>
<path d="M161,386.4 L142.9,386.4" fill="none" stroke="#0c0c0c" stroke-width="1.8" stroke-linecap="square" stroke-linejoin="miter"/>
<path d="M201.3,386.4 L201.3,347.5" fill="none" stroke="#0c0c0c" stroke-width="1.8" stroke-linecap="square" stroke-linejoin="miter"/>
<line x1="201.3" y1="380" x2="201.3" y2="358" stroke="#7c7c7c" stroke-width="2.0" stroke-linecap="butt"/>
<line x1="209.5" y1="386.4" x2="209.5" y2="347.5" stroke="#929292" stroke-width="0.8" stroke-linecap="butt"/>
<path d="M209.5,347.5 L142.9,347.5" fill="none" stroke="#0c0c0c" stroke-width="1.8" stroke-linecap="square" stroke-linejoin="miter"/>
<path d="M215,241.2 L160,241.2" fill="none" stroke="#0c0c0c" stroke-width="1.8" stroke-linecap="square" stroke-linejoin="miter"/>
<line x1="214" y1="241.2" x2="214" y2="280" stroke="#929292" stroke-width="0.8" stroke-linecap="butt"/>
<path d="M206.3,241.2 L206.3,308.6" fill="none" stroke="#0c0c0c" stroke-width="1.8" stroke-linecap="square" stroke-linejoin="miter"/>
<line x1="206.3" y1="247" x2="206.3" y2="274" stroke="#7c7c7c" stroke-width="2.0" stroke-linecap="butt"/>
<line x1="206.3" y1="286" x2="206.3" y2="303" stroke="#7c7c7c" stroke-width="2.0" stroke-linecap="butt"/>
<path d="M215.5,280 L173.2,280" fill="none" stroke="#0c0c0c" stroke-width="1.8" stroke-linecap="square" stroke-linejoin="miter"/>
<path d="M215.5,280 L215.5,308.6" fill="none" stroke="#0c0c0c" stroke-width="1.8" stroke-linecap="square" stroke-linejoin="miter"/>
<line x1="215.5" y1="285" x2="215.5" y2="303.5" stroke="#7c7c7c" stroke-width="2.0" stroke-linecap="butt"/>
<text transform="translate(209.8,294.3) rotate(90)" x="0" y="0" font-size="3.4" font-weight="bold" fill="#555" text-anchor="middle" textLength="17" lengthAdjust="spacingAndGlyphs">DUCT SHAFT</text>
<path d="M215.5,308.6 L174,308.6" fill="none" stroke="#0c0c0c" stroke-width="1.8" stroke-linecap="square" stroke-linejoin="miter"/>
<path d="M160,241.2 L160,263.5" fill="none" stroke="#0c0c0c" stroke-width="1.8" stroke-linecap="square" stroke-linejoin="miter"/>
<path d="M160,273 L160,308.6" fill="none" stroke="#0c0c0c" stroke-width="1.8" stroke-linecap="square" stroke-linejoin="miter"/>
<line x1="160" y1="263.5" x2="160" y2="273" stroke="#929292" stroke-width="0.8" stroke-linecap="butt"/>
<path d="M173,280 A13,13 0 0 0 160,267" fill="none" stroke="#a8a8a8" stroke-width="0.6"/>
<path d="M160,254.5 L142.9,254.5 L142.9,333" fill="none" stroke="#0c0c0c" stroke-width="1.8" stroke-linecap="square" stroke-linejoin="miter"/>
<line x1="142.9" y1="263.5" x2="142.9" y2="273.2" stroke="#7c7c7c" stroke-width="2.0" stroke-linecap="butt"/>
<path d="M160,281.5 L142.9,281.5" fill="none" stroke="#0c0c0c" stroke-width="1.8" stroke-linecap="square" stroke-linejoin="miter"/>
<path d="M161,308.6 L142.9,308.6" fill="none" stroke="#0c0c0c" stroke-width="1.8" stroke-linecap="square" stroke-linejoin="miter"/>
<path d="M201.3,308.6 L201.3,347.5" fill="none" stroke="#0c0c0c" stroke-width="1.8" stroke-linecap="square" stroke-linejoin="miter"/>
<line x1="201.3" y1="315" x2="201.3" y2="337" stroke="#7c7c7c" stroke-width="2.0" stroke-linecap="butt"/>
<line x1="209.5" y1="308.6" x2="209.5" y2="347.5" stroke="#929292" stroke-width="0.8" stroke-linecap="butt"/>
<path d="M209.5,347.5 L142.9,347.5" fill="none" stroke="#0c0c0c" stroke-width="1.8" stroke-linecap="square" stroke-linejoin="miter"/>
<text x="63.6" y="434" font-size="6.6" font-weight="bold" fill="#2a2a2a" stroke="#2a2a2a" stroke-width="0.2" text-anchor="middle" textLength="10" lengthAdjust="spacingAndGlyphs">BED</text>
<text x="63.6" y="442" font-size="7.4" font-weight="bold" fill="#2a2a2a" stroke="#2a2a2a" stroke-width="0.2" text-anchor="middle" textLength="30.5" lengthAdjust="spacingAndGlyphs">11'6&quot; X 9'6&quot;</text>
<text x="62.2" y="398.3" font-size="6.6" font-weight="bold" fill="#2a2a2a" stroke="#2a2a2a" stroke-width="0.2" text-anchor="middle" textLength="21.6" lengthAdjust="spacingAndGlyphs">KITCHEN</text>
<text x="62.2" y="406.3" font-size="7.4" font-weight="bold" fill="#2a2a2a" stroke="#2a2a2a" stroke-width="0.2" text-anchor="middle" textLength="31" lengthAdjust="spacingAndGlyphs">11'6&quot; X 7'0&quot;</text>
<text x="74.5" y="366" font-size="6.6" font-weight="bold" fill="#2a2a2a" stroke="#2a2a2a" stroke-width="0.2" text-anchor="middle" textLength="16" lengthAdjust="spacingAndGlyphs">LIVING</text>
<text x="74.5" y="374" font-size="7.4" font-weight="bold" fill="#2a2a2a" stroke="#2a2a2a" stroke-width="0.2" text-anchor="middle" textLength="31" lengthAdjust="spacingAndGlyphs">14'6&quot; X 9'6&quot;</text>
<text x="94.5" y="423.25" font-size="4.3" font-weight="bold" fill="#2a2a2a" stroke="#2a2a2a" stroke-width="0.2" text-anchor="middle" textLength="13.9" lengthAdjust="spacingAndGlyphs">TOILET</text>
<text x="94.5" y="428.95" font-size="4.3" font-weight="bold" fill="#2a2a2a" stroke="#2a2a2a" stroke-width="0.2" text-anchor="middle" textLength="11.5" lengthAdjust="spacingAndGlyphs">4'0&quot; X</text>
<text x="94.5" y="434.85" font-size="4.3" font-weight="bold" fill="#2a2a2a" stroke="#2a2a2a" stroke-width="0.2" text-anchor="middle" textLength="8.9" lengthAdjust="spacingAndGlyphs">5'0&quot;</text>
<text x="94.5" y="394.45" font-size="4.3" font-weight="bold" fill="#2a2a2a" stroke="#2a2a2a" stroke-width="0.2" text-anchor="middle" textLength="13.9" lengthAdjust="spacingAndGlyphs">TOILET</text>
<text x="94.5" y="400.15" font-size="4.3" font-weight="bold" fill="#2a2a2a" stroke="#2a2a2a" stroke-width="0.2" text-anchor="middle" textLength="11.5" lengthAdjust="spacingAndGlyphs">4'0&quot; X</text>
<text x="94.5" y="406.05" font-size="4.3" font-weight="bold" fill="#2a2a2a" stroke="#2a2a2a" stroke-width="0.2" text-anchor="middle" textLength="8.9" lengthAdjust="spacingAndGlyphs">4'0&quot;</text>
<text x="63.6" y="259.4" font-size="6.6" font-weight="bold" fill="#2a2a2a" stroke="#2a2a2a" stroke-width="0.2" text-anchor="middle" textLength="10" lengthAdjust="spacingAndGlyphs">BED</text>
<text x="63.6" y="267.4" font-size="7.4" font-weight="bold" fill="#2a2a2a" stroke="#2a2a2a" stroke-width="0.2" text-anchor="middle" textLength="30.5" lengthAdjust="spacingAndGlyphs">11'6&quot; X 9'6&quot;</text>
<text x="62.2" y="293.7" font-size="6.6" font-weight="bold" fill="#2a2a2a" stroke="#2a2a2a" stroke-width="0.2" text-anchor="middle" textLength="21.6" lengthAdjust="spacingAndGlyphs">KITCHEN</text>
<text x="62.2" y="301.7" font-size="7.4" font-weight="bold" fill="#2a2a2a" stroke="#2a2a2a" stroke-width="0.2" text-anchor="middle" textLength="31" lengthAdjust="spacingAndGlyphs">11'6&quot; X 7'0&quot;</text>
<text x="74.5" y="326.7" font-size="6.6" font-weight="bold" fill="#2a2a2a" stroke="#2a2a2a" stroke-width="0.2" text-anchor="middle" textLength="16" lengthAdjust="spacingAndGlyphs">LIVING</text>
<text x="74.5" y="334.7" font-size="7.4" font-weight="bold" fill="#2a2a2a" stroke="#2a2a2a" stroke-width="0.2" text-anchor="middle" textLength="31" lengthAdjust="spacingAndGlyphs">14'6&quot; X 9'6&quot;</text>
<text x="94.5" y="263.05" font-size="4.3" font-weight="bold" fill="#2a2a2a" stroke="#2a2a2a" stroke-width="0.2" text-anchor="middle" textLength="13.9" lengthAdjust="spacingAndGlyphs">TOILET</text>
<text x="94.5" y="268.75" font-size="4.3" font-weight="bold" fill="#2a2a2a" stroke="#2a2a2a" stroke-width="0.2" text-anchor="middle" textLength="11.5" lengthAdjust="spacingAndGlyphs">4'0&quot; X</text>
<text x="94.5" y="274.65" font-size="4.3" font-weight="bold" fill="#2a2a2a" stroke="#2a2a2a" stroke-width="0.2" text-anchor="middle" textLength="8.9" lengthAdjust="spacingAndGlyphs">5'0&quot;</text>
<text x="94.5" y="291.85" font-size="4.3" font-weight="bold" fill="#2a2a2a" stroke="#2a2a2a" stroke-width="0.2" text-anchor="middle" textLength="13.9" lengthAdjust="spacingAndGlyphs">TOILET</text>
<text x="94.5" y="297.55" font-size="4.3" font-weight="bold" fill="#2a2a2a" stroke="#2a2a2a" stroke-width="0.2" text-anchor="middle" textLength="11.5" lengthAdjust="spacingAndGlyphs">4'0&quot; X</text>
<text x="94.5" y="303.45" font-size="4.3" font-weight="bold" fill="#2a2a2a" stroke="#2a2a2a" stroke-width="0.2" text-anchor="middle" textLength="8.9" lengthAdjust="spacingAndGlyphs">4'0&quot;</text>
<text x="184.9" y="434" font-size="6.6" font-weight="bold" fill="#2a2a2a" stroke="#2a2a2a" stroke-width="0.2" text-anchor="middle" textLength="10" lengthAdjust="spacingAndGlyphs">BED</text>
<text x="184.9" y="442" font-size="7.4" font-weight="bold" fill="#2a2a2a" stroke="#2a2a2a" stroke-width="0.2" text-anchor="middle" textLength="30.5" lengthAdjust="spacingAndGlyphs">11'6&quot; X 9'6&quot;</text>
<text x="185" y="398.3" font-size="6.6" font-weight="bold" fill="#2a2a2a" stroke="#2a2a2a" stroke-width="0.2" text-anchor="middle" textLength="21.6" lengthAdjust="spacingAndGlyphs">KITCHEN</text>
<text x="185" y="406.3" font-size="7.4" font-weight="bold" fill="#2a2a2a" stroke="#2a2a2a" stroke-width="0.2" text-anchor="middle" textLength="31" lengthAdjust="spacingAndGlyphs">11'6&quot; X 7'0&quot;</text>
<text x="172.3" y="366" font-size="6.6" font-weight="bold" fill="#2a2a2a" stroke="#2a2a2a" stroke-width="0.2" text-anchor="middle" textLength="16" lengthAdjust="spacingAndGlyphs">LIVING</text>
<text x="172.3" y="374" font-size="7.4" font-weight="bold" fill="#2a2a2a" stroke="#2a2a2a" stroke-width="0.2" text-anchor="middle" textLength="31" lengthAdjust="spacingAndGlyphs">14'6&quot; X 9'6&quot;</text>
<text x="151.5" y="423.25" font-size="4.3" font-weight="bold" fill="#2a2a2a" stroke="#2a2a2a" stroke-width="0.2" text-anchor="middle" textLength="13.9" lengthAdjust="spacingAndGlyphs">TOILET</text>
<text x="151.5" y="428.95" font-size="4.3" font-weight="bold" fill="#2a2a2a" stroke="#2a2a2a" stroke-width="0.2" text-anchor="middle" textLength="11.5" lengthAdjust="spacingAndGlyphs">4'0&quot; X</text>
<text x="151.5" y="434.85" font-size="4.3" font-weight="bold" fill="#2a2a2a" stroke="#2a2a2a" stroke-width="0.2" text-anchor="middle" textLength="8.9" lengthAdjust="spacingAndGlyphs">5'0&quot;</text>
<text x="151.5" y="394.45" font-size="4.3" font-weight="bold" fill="#2a2a2a" stroke="#2a2a2a" stroke-width="0.2" text-anchor="middle" textLength="13.9" lengthAdjust="spacingAndGlyphs">TOILET</text>
<text x="151.5" y="400.15" font-size="4.3" font-weight="bold" fill="#2a2a2a" stroke="#2a2a2a" stroke-width="0.2" text-anchor="middle" textLength="11.5" lengthAdjust="spacingAndGlyphs">4'0&quot; X</text>
<text x="151.5" y="406.05" font-size="4.3" font-weight="bold" fill="#2a2a2a" stroke="#2a2a2a" stroke-width="0.2" text-anchor="middle" textLength="8.9" lengthAdjust="spacingAndGlyphs">4'0&quot;</text>
<text x="184.9" y="259.4" font-size="6.6" font-weight="bold" fill="#2a2a2a" stroke="#2a2a2a" stroke-width="0.2" text-anchor="middle" textLength="10" lengthAdjust="spacingAndGlyphs">BED</text>
<text x="184.9" y="267.4" font-size="7.4" font-weight="bold" fill="#2a2a2a" stroke="#2a2a2a" stroke-width="0.2" text-anchor="middle" textLength="30.5" lengthAdjust="spacingAndGlyphs">11'6&quot; X 9'6&quot;</text>
<text x="185" y="293.7" font-size="6.6" font-weight="bold" fill="#2a2a2a" stroke="#2a2a2a" stroke-width="0.2" text-anchor="middle" textLength="21.6" lengthAdjust="spacingAndGlyphs">KITCHEN</text>
<text x="185" y="301.7" font-size="7.4" font-weight="bold" fill="#2a2a2a" stroke="#2a2a2a" stroke-width="0.2" text-anchor="middle" textLength="31" lengthAdjust="spacingAndGlyphs">11'6&quot; X 7'0&quot;</text>
<text x="172.3" y="326.7" font-size="6.6" font-weight="bold" fill="#2a2a2a" stroke="#2a2a2a" stroke-width="0.2" text-anchor="middle" textLength="16" lengthAdjust="spacingAndGlyphs">LIVING</text>
<text x="172.3" y="334.7" font-size="7.4" font-weight="bold" fill="#2a2a2a" stroke="#2a2a2a" stroke-width="0.2" text-anchor="middle" textLength="31" lengthAdjust="spacingAndGlyphs">14'6&quot; X 9'6&quot;</text>
<text x="151.5" y="263.05" font-size="4.3" font-weight="bold" fill="#2a2a2a" stroke="#2a2a2a" stroke-width="0.2" text-anchor="middle" textLength="13.9" lengthAdjust="spacingAndGlyphs">TOILET</text>
<text x="151.5" y="268.75" font-size="4.3" font-weight="bold" fill="#2a2a2a" stroke="#2a2a2a" stroke-width="0.2" text-anchor="middle" textLength="11.5" lengthAdjust="spacingAndGlyphs">4'0&quot; X</text>
<text x="151.5" y="274.65" font-size="4.3" font-weight="bold" fill="#2a2a2a" stroke="#2a2a2a" stroke-width="0.2" text-anchor="middle" textLength="8.9" lengthAdjust="spacingAndGlyphs">5'0&quot;</text>
<text x="151.5" y="291.85" font-size="4.3" font-weight="bold" fill="#2a2a2a" stroke="#2a2a2a" stroke-width="0.2" text-anchor="middle" textLength="13.9" lengthAdjust="spacingAndGlyphs">TOILET</text>
<text x="151.5" y="297.55" font-size="4.3" font-weight="bold" fill="#2a2a2a" stroke="#2a2a2a" stroke-width="0.2" text-anchor="middle" textLength="11.5" lengthAdjust="spacingAndGlyphs">4'0&quot; X</text>
<text x="151.5" y="303.45" font-size="4.3" font-weight="bold" fill="#2a2a2a" stroke="#2a2a2a" stroke-width="0.2" text-anchor="middle" textLength="8.9" lengthAdjust="spacingAndGlyphs">4'0&quot;</text>
<path d="M103.1,403.8 L112,403.8" fill="none" stroke="#0c0c0c" stroke-width="1.8" stroke-linecap="square" stroke-linejoin="miter"/>
<path d="M134,403.8 L143,403.8" fill="none" stroke="#0c0c0c" stroke-width="1.8" stroke-linecap="square" stroke-linejoin="miter"/>
<line x1="112" y1="403.8" x2="134" y2="403.8" stroke="#7c7c7c" stroke-width="2.0" stroke-linecap="butt"/>
<line x1="104" y1="383.2" x2="119.3" y2="383.2" stroke="#747474" stroke-width="0.8" stroke-linecap="butt"/>
<line x1="125.8" y1="383.2" x2="142.1" y2="383.2" stroke="#747474" stroke-width="0.8" stroke-linecap="butt"/>
<line x1="104" y1="379.75" x2="119.3" y2="379.75" stroke="#747474" stroke-width="0.8" stroke-linecap="butt"/>
<line x1="125.8" y1="379.75" x2="142.1" y2="379.75" stroke="#747474" stroke-width="0.8" stroke-linecap="butt"/>
<line x1="104" y1="376.3" x2="119.3" y2="376.3" stroke="#747474" stroke-width="0.8" stroke-linecap="butt"/>
<line x1="125.8" y1="376.3" x2="142.1" y2="376.3" stroke="#747474" stroke-width="0.8" stroke-linecap="butt"/>
<line x1="104" y1="372.85" x2="119.3" y2="372.85" stroke="#747474" stroke-width="0.8" stroke-linecap="butt"/>
<line x1="125.8" y1="372.85" x2="142.1" y2="372.85" stroke="#747474" stroke-width="0.8" stroke-linecap="butt"/>
<line x1="104" y1="369.4" x2="119.3" y2="369.4" stroke="#747474" stroke-width="0.8" stroke-linecap="butt"/>
<line x1="125.8" y1="369.4" x2="142.1" y2="369.4" stroke="#747474" stroke-width="0.8" stroke-linecap="butt"/>
<line x1="104" y1="365.95" x2="119.3" y2="365.95" stroke="#747474" stroke-width="0.8" stroke-linecap="butt"/>
<line x1="125.8" y1="365.95" x2="142.1" y2="365.95" stroke="#747474" stroke-width="0.8" stroke-linecap="butt"/>
<line x1="104" y1="362.5" x2="119.3" y2="362.5" stroke="#747474" stroke-width="0.8" stroke-linecap="butt"/>
<line x1="125.8" y1="362.5" x2="142.1" y2="362.5" stroke="#747474" stroke-width="0.8" stroke-linecap="butt"/>
<line x1="104" y1="362" x2="142.1" y2="362" stroke="#747474" stroke-width="0.8" stroke-linecap="butt"/>
<line x1="119.3" y1="403.8" x2="119.3" y2="362" stroke="#747474" stroke-width="0.8" stroke-linecap="butt"/>
<line x1="125.8" y1="403.8" x2="125.8" y2="362" stroke="#747474" stroke-width="0.8" stroke-linecap="butt"/>
<line x1="121.6" y1="403.8" x2="121.6" y2="385" stroke="#9a9a9a" stroke-width="0.5" stroke-linecap="butt"/>
<line x1="123.5" y1="403.8" x2="123.5" y2="385" stroke="#9a9a9a" stroke-width="0.5" stroke-linecap="butt"/>
<path d="M103.1,332.6 L125.8,332.6" fill="none" stroke="#0c0c0c" stroke-width="1.8" stroke-linecap="square" stroke-linejoin="miter"/>
<path d="M138,332.6 L143,332.6" fill="none" stroke="#0c0c0c" stroke-width="1.8" stroke-linecap="square" stroke-linejoin="miter"/>
<path d="M103.1,309.2 L143,309.2" fill="none" stroke="#0c0c0c" stroke-width="1.8" stroke-linecap="square" stroke-linejoin="miter"/>
<path d="M120.3,332.6 L120.3,309.2" fill="none" stroke="#0c0c0c" stroke-width="1.8" stroke-linecap="square" stroke-linejoin="miter"/>
<line x1="106" y1="329.5" x2="117.5" y2="312" stroke="#a0a0a0" stroke-width="0.5" stroke-linecap="butt"/>
<line x1="117.5" y1="329.5" x2="106" y2="312" stroke="#a0a0a0" stroke-width="0.5" stroke-linecap="butt"/>
<circle cx="99.3" cy="354.7" r="3.4" fill="#e9d9d3" stroke="#e49a82" stroke-width="0.8"/>
<circle cx="99.3" cy="339.2" r="3.4" fill="#e9d9d3" stroke="#e49a82" stroke-width="0.8"/>
<circle cx="146.7" cy="354.7" r="3.4" fill="#e9d9d3" stroke="#e49a82" stroke-width="0.8"/>
<circle cx="146.7" cy="339.2" r="3.4" fill="#e9d9d3" stroke="#e49a82" stroke-width="0.8"/>
<text x="131.5" y="315.5" font-size="5.2" font-weight="bold" fill="#2a2a2a" stroke="#2a2a2a" stroke-width="0.2" text-anchor="middle" textLength="10" lengthAdjust="spacingAndGlyphs">LIFT</text>
<text x="131.5" y="322" font-size="5.2" font-weight="bold" fill="#2a2a2a" stroke="#2a2a2a" stroke-width="0.2" text-anchor="middle" textLength="16" lengthAdjust="spacingAndGlyphs">5'6&quot; X</text>
<text x="131.5" y="328.3" font-size="5.2" font-weight="bold" fill="#2a2a2a" stroke="#2a2a2a" stroke-width="0.2" text-anchor="middle" textLength="10" lengthAdjust="spacingAndGlyphs">5'6&quot;</text>
<path d="M31,453.8 L92.9,453.8" fill="none" stroke="#0c0c0c" stroke-width="1.8" stroke-linecap="square" stroke-linejoin="miter"/>
<path d="M46.6,453.8 L46.6,521" fill="none" stroke="#0c0c0c" stroke-width="1.8" stroke-linecap="square" stroke-linejoin="miter"/>
<line x1="46.6" y1="460" x2="46.6" y2="486" stroke="#7c7c7c" stroke-width="2.0" stroke-linecap="butt"/>
<line x1="38" y1="453.8" x2="38" y2="492.3" stroke="#929292" stroke-width="0.8" stroke-linecap="butt"/>
<path d="M92.9,453.8 L92.9,483" fill="none" stroke="#0c0c0c" stroke-width="1.8" stroke-linecap="square" stroke-linejoin="miter"/>
<path d="M92.9,490 L92.9,521.2" fill="none" stroke="#0c0c0c" stroke-width="1.8" stroke-linecap="square" stroke-linejoin="miter"/>
<line x1="92.9" y1="483" x2="92.9" y2="490" stroke="#929292" stroke-width="0.8" stroke-linecap="butt"/>
<path d="M80,492.3 A12.9,12.9 0 0 1 92.9,479.4" fill="none" stroke="#a8a8a8" stroke-width="0.6"/>
<path d="M92.9,476.5 L110.8,476.5 L110.8,504.7 L92.9,504.7" fill="none" stroke="#0c0c0c" stroke-width="1.8" stroke-linecap="square" stroke-linejoin="miter"/>
<line x1="110.8" y1="484" x2="110.8" y2="496" stroke="#7c7c7c" stroke-width="2.0" stroke-linecap="butt"/>
<path d="M36.5,492.3 L80,492.3" fill="none" stroke="#0c0c0c" stroke-width="1.8" stroke-linecap="square" stroke-linejoin="miter"/>
<path d="M36.5,492.3 L36.5,521.1" fill="none" stroke="#0c0c0c" stroke-width="1.8" stroke-linecap="square" stroke-linejoin="miter"/>
<line x1="36.5" y1="497" x2="36.5" y2="515" stroke="#7c7c7c" stroke-width="2.0" stroke-linecap="butt"/>
<text transform="translate(40.3,506.7) rotate(90)" x="0" y="0" font-size="3.4" font-weight="bold" fill="#555" text-anchor="middle" textLength="17" lengthAdjust="spacingAndGlyphs">DUCT SHAFT</text>
<path d="M36.5,521.1 L78.7,521.1" fill="none" stroke="#0c0c0c" stroke-width="1.8" stroke-linecap="square" stroke-linejoin="miter"/>
<path d="M92.5,521.2 L120,521.2" fill="none" stroke="#0c0c0c" stroke-width="1.8" stroke-linecap="square" stroke-linejoin="miter"/>
<path d="M120,504.7 L120,560.3" fill="none" stroke="#0c0c0c" stroke-width="1.8" stroke-linecap="square" stroke-linejoin="miter"/>
<path d="M209,453.8 L147.1,453.8" fill="none" stroke="#0c0c0c" stroke-width="1.8" stroke-linecap="square" stroke-linejoin="miter"/>
<path d="M193.4,453.8 L193.4,521" fill="none" stroke="#0c0c0c" stroke-width="1.8" stroke-linecap="square" stroke-linejoin="miter"/>
<line x1="193.4" y1="460" x2="193.4" y2="486" stroke="#7c7c7c" stroke-width="2.0" stroke-linecap="butt"/>
<line x1="202" y1="453.8" x2="202" y2="492.3" stroke="#929292" stroke-width="0.8" stroke-linecap="butt"/>
<path d="M147.1,453.8 L147.1,483" fill="none" stroke="#0c0c0c" stroke-width="1.8" stroke-linecap="square" stroke-linejoin="miter"/>
<path d="M147.1,490 L147.1,521.2" fill="none" stroke="#0c0c0c" stroke-width="1.8" stroke-linecap="square" stroke-linejoin="miter"/>
<line x1="147.1" y1="483" x2="147.1" y2="490" stroke="#929292" stroke-width="0.8" stroke-linecap="butt"/>
<path d="M160,492.3 A12.9,12.9 0 0 0 147.1,479.4" fill="none" stroke="#a8a8a8" stroke-width="0.6"/>
<path d="M147.1,476.5 L129.2,476.5 L129.2,504.7 L147.1,504.7" fill="none" stroke="#0c0c0c" stroke-width="1.8" stroke-linecap="square" stroke-linejoin="miter"/>
<line x1="129.2" y1="484" x2="129.2" y2="496" stroke="#7c7c7c" stroke-width="2.0" stroke-linecap="butt"/>
<path d="M203.5,492.3 L160,492.3" fill="none" stroke="#0c0c0c" stroke-width="1.8" stroke-linecap="square" stroke-linejoin="miter"/>
<path d="M203.5,492.3 L203.5,521.1" fill="none" stroke="#0c0c0c" stroke-width="1.8" stroke-linecap="square" stroke-linejoin="miter"/>
<line x1="203.5" y1="497" x2="203.5" y2="515" stroke="#7c7c7c" stroke-width="2.0" stroke-linecap="butt"/>
<text transform="translate(197.3,506.7) rotate(90)" x="0" y="0" font-size="3.4" font-weight="bold" fill="#555" text-anchor="middle" textLength="17" lengthAdjust="spacingAndGlyphs">DUCT SHAFT</text>
<path d="M203.5,521.1 L161.3,521.1" fill="none" stroke="#0c0c0c" stroke-width="1.8" stroke-linecap="square" stroke-linejoin="miter"/>
<path d="M147.5,521.2 L120,521.2" fill="none" stroke="#0c0c0c" stroke-width="1.8" stroke-linecap="square" stroke-linejoin="miter"/>
<path d="M120,504.7 L120,560.3" fill="none" stroke="#0c0c0c" stroke-width="1.8" stroke-linecap="square" stroke-linejoin="miter"/>
<text x="70.8" y="472" font-size="6.6" font-weight="bold" fill="#2a2a2a" stroke="#2a2a2a" stroke-width="0.2" text-anchor="middle" textLength="10" lengthAdjust="spacingAndGlyphs">BED</text>
<text x="70.8" y="480" font-size="7.4" font-weight="bold" fill="#2a2a2a" stroke="#2a2a2a" stroke-width="0.2" text-anchor="middle" textLength="30.5" lengthAdjust="spacingAndGlyphs">11'6&quot; X 9'6&quot;</text>
<text x="68" y="504.6" font-size="6.6" font-weight="bold" fill="#2a2a2a" stroke="#2a2a2a" stroke-width="0.2" text-anchor="middle" textLength="21.6" lengthAdjust="spacingAndGlyphs">KITCHEN</text>
<text x="68" y="512.6" font-size="7.4" font-weight="bold" fill="#2a2a2a" stroke="#2a2a2a" stroke-width="0.2" text-anchor="middle" textLength="31" lengthAdjust="spacingAndGlyphs">11'6&quot; X 7'0&quot;</text>
<text x="101.3" y="486.85" font-size="4.3" font-weight="bold" fill="#2a2a2a" stroke="#2a2a2a" stroke-width="0.2" text-anchor="middle" textLength="13.9" lengthAdjust="spacingAndGlyphs">TOILET</text>
<text x="101.3" y="492.55" font-size="4.3" font-weight="bold" fill="#2a2a2a" stroke="#2a2a2a" stroke-width="0.2" text-anchor="middle" textLength="11.5" lengthAdjust="spacingAndGlyphs">4'0&quot; X</text>
<text x="101.3" y="498.45" font-size="4.3" font-weight="bold" fill="#2a2a2a" stroke="#2a2a2a" stroke-width="0.2" text-anchor="middle" textLength="8.9" lengthAdjust="spacingAndGlyphs">8'0&quot;</text>
<text x="171.8" y="472" font-size="6.6" font-weight="bold" fill="#2a2a2a" stroke="#2a2a2a" stroke-width="0.2" text-anchor="middle" textLength="10" lengthAdjust="spacingAndGlyphs">BED</text>
<text x="171.8" y="480" font-size="7.4" font-weight="bold" fill="#2a2a2a" stroke="#2a2a2a" stroke-width="0.2" text-anchor="middle" textLength="30.5" lengthAdjust="spacingAndGlyphs">11'6&quot; X 9'6&quot;</text>
<text x="172" y="504.6" font-size="6.6" font-weight="bold" fill="#2a2a2a" stroke="#2a2a2a" stroke-width="0.2" text-anchor="middle" textLength="21.6" lengthAdjust="spacingAndGlyphs">KITCHEN</text>
<text x="172" y="512.6" font-size="7.4" font-weight="bold" fill="#2a2a2a" stroke="#2a2a2a" stroke-width="0.2" text-anchor="middle" textLength="31" lengthAdjust="spacingAndGlyphs">11'6&quot; X 7'0&quot;</text>
<text x="138.7" y="486.85" font-size="4.3" font-weight="bold" fill="#2a2a2a" stroke="#2a2a2a" stroke-width="0.2" text-anchor="middle" textLength="13.9" lengthAdjust="spacingAndGlyphs">TOILET</text>
<text x="138.7" y="492.55" font-size="4.3" font-weight="bold" fill="#2a2a2a" stroke="#2a2a2a" stroke-width="0.2" text-anchor="middle" textLength="11.5" lengthAdjust="spacingAndGlyphs">4'0&quot; X</text>
<text x="138.7" y="498.45" font-size="4.3" font-weight="bold" fill="#2a2a2a" stroke="#2a2a2a" stroke-width="0.2" text-anchor="middle" textLength="8.9" lengthAdjust="spacingAndGlyphs">8'0&quot;</text>
<text x="106.6" y="512.4" font-size="4.3" font-weight="bold" fill="#2a2a2a" stroke="#2a2a2a" stroke-width="0.2" text-anchor="middle" textLength="12.9" lengthAdjust="spacingAndGlyphs">TOILET</text>
<text x="106.6" y="518" font-size="4.3" font-weight="bold" fill="#2a2a2a" stroke="#2a2a2a" stroke-width="0.2" text-anchor="middle" textLength="20.8" lengthAdjust="spacingAndGlyphs">6'0&quot; X 4'0&quot;</text>
<text x="133.4" y="512.4" font-size="4.3" font-weight="bold" fill="#2a2a2a" stroke="#2a2a2a" stroke-width="0.2" text-anchor="middle" textLength="12.9" lengthAdjust="spacingAndGlyphs">TOILET</text>
<text x="133.4" y="518" font-size="4.3" font-weight="bold" fill="#2a2a2a" stroke="#2a2a2a" stroke-width="0.2" text-anchor="middle" textLength="20.8" lengthAdjust="spacingAndGlyphs">6'0&quot; X 4'0&quot;</text>
<line x1="110.8" y1="504.7" x2="129.2" y2="504.7" stroke="#7c7c7c" stroke-width="1.4" stroke-linecap="butt"/>
<circle cx="112.8" cy="556" r="3.4" fill="#e9d9d3" stroke="#e49a82" stroke-width="0.8"/>
<circle cx="129.2" cy="556" r="3.4" fill="#e9d9d3" stroke="#e49a82" stroke-width="0.8"/>
<path d="M61.6,521.1 L61.6,560.3" fill="none" stroke="#0c0c0c" stroke-width="1.8" stroke-linecap="square" stroke-linejoin="miter"/>
<line x1="61.6" y1="527" x2="61.6" y2="554" stroke="#7c7c7c" stroke-width="2.0" stroke-linecap="butt"/>
<line x1="53.1" y1="521.1" x2="53.1" y2="560.3" stroke="#929292" stroke-width="0.8" stroke-linecap="butt"/>
<path d="M178.4,521.1 L178.4,560.3" fill="none" stroke="#0c0c0c" stroke-width="1.8" stroke-linecap="square" stroke-linejoin="miter"/>
<line x1="178.4" y1="527" x2="178.4" y2="554" stroke="#7c7c7c" stroke-width="2.0" stroke-linecap="butt"/>
<line x1="186.9" y1="521.1" x2="186.9" y2="560.3" stroke="#929292" stroke-width="0.8" stroke-linecap="butt"/>
<path d="M38.6,560.3 L105,560.3" fill="none" stroke="#0c0c0c" stroke-width="1.8" stroke-linecap="square" stroke-linejoin="miter"/>
<text x="90.2" y="539.6" font-size="6.6" font-weight="bold" fill="#2a2a2a" stroke="#2a2a2a" stroke-width="0.2" text-anchor="middle" textLength="16" lengthAdjust="spacingAndGlyphs">LIVING</text>
<text x="90.2" y="547.6" font-size="7.4" font-weight="bold" fill="#2a2a2a" stroke="#2a2a2a" stroke-width="0.2" text-anchor="middle" textLength="31" lengthAdjust="spacingAndGlyphs">14'6&quot; X 9'6&quot;</text>
<text x="149.8" y="539.6" font-size="6.6" font-weight="bold" fill="#2a2a2a" stroke="#2a2a2a" stroke-width="0.2" text-anchor="middle" textLength="16" lengthAdjust="spacingAndGlyphs">LIVING</text>
<text x="149.8" y="547.6" font-size="7.4" font-weight="bold" fill="#2a2a2a" stroke="#2a2a2a" stroke-width="0.2" text-anchor="middle" textLength="31" lengthAdjust="spacingAndGlyphs">14'6&quot; X 9'6&quot;</text>
<path d="M32.8,666.6 L87.8,666.6" fill="none" stroke="#0c0c0c" stroke-width="1.8" stroke-linecap="square" stroke-linejoin="miter"/>
<line x1="33.8" y1="666.6" x2="33.8" y2="627.8" stroke="#929292" stroke-width="0.8" stroke-linecap="butt"/>
<path d="M41.5,666.6 L41.5,599.2" fill="none" stroke="#0c0c0c" stroke-width="1.8" stroke-linecap="square" stroke-linejoin="miter"/>
<line x1="41.5" y1="660.8" x2="41.5" y2="633.8" stroke="#7c7c7c" stroke-width="2.0" stroke-linecap="butt"/>
<line x1="41.5" y1="621.8" x2="41.5" y2="604.8" stroke="#7c7c7c" stroke-width="2.0" stroke-linecap="butt"/>
<path d="M32.3,627.8 L74.6,627.8" fill="none" stroke="#0c0c0c" stroke-width="1.8" stroke-linecap="square" stroke-linejoin="miter"/>
<path d="M32.3,627.8 L32.3,599.2" fill="none" stroke="#0c0c0c" stroke-width="1.8" stroke-linecap="square" stroke-linejoin="miter"/>
<line x1="32.3" y1="622.8" x2="32.3" y2="604.3" stroke="#7c7c7c" stroke-width="2.0" stroke-linecap="butt"/>
<text transform="translate(35.6,613.5) rotate(90)" x="0" y="0" font-size="3.4" font-weight="bold" fill="#555" text-anchor="middle" textLength="17" lengthAdjust="spacingAndGlyphs">DUCT SHAFT</text>
<path d="M32.3,599.2 L73.8,599.2" fill="none" stroke="#0c0c0c" stroke-width="1.8" stroke-linecap="square" stroke-linejoin="miter"/>
<path d="M87.8,666.6 L87.8,644.3" fill="none" stroke="#0c0c0c" stroke-width="1.8" stroke-linecap="square" stroke-linejoin="miter"/>
<path d="M87.8,634.8 L87.8,599.2" fill="none" stroke="#0c0c0c" stroke-width="1.8" stroke-linecap="square" stroke-linejoin="miter"/>
<line x1="87.8" y1="644.3" x2="87.8" y2="634.8" stroke="#929292" stroke-width="0.8" stroke-linecap="butt"/>
<path d="M74.8,627.8 A13,13 0 0 0 87.8,640.8" fill="none" stroke="#a8a8a8" stroke-width="0.6"/>
<path d="M87.8,653.3 L104.9,653.3 L104.9,574.8" fill="none" stroke="#0c0c0c" stroke-width="1.8" stroke-linecap="square" stroke-linejoin="miter"/>
<line x1="104.9" y1="644.3" x2="104.9" y2="634.6" stroke="#7c7c7c" stroke-width="2.0" stroke-linecap="butt"/>
<path d="M87.8,626.3 L104.9,626.3" fill="none" stroke="#0c0c0c" stroke-width="1.8" stroke-linecap="square" stroke-linejoin="miter"/>
<path d="M86.8,599.2 L104.9,599.2" fill="none" stroke="#0c0c0c" stroke-width="1.8" stroke-linecap="square" stroke-linejoin="miter"/>
<path d="M46.5,599.2 L46.5,560.3" fill="none" stroke="#0c0c0c" stroke-width="1.8" stroke-linecap="square" stroke-linejoin="miter"/>
<line x1="46.5" y1="592.8" x2="46.5" y2="570.8" stroke="#7c7c7c" stroke-width="2.0" stroke-linecap="butt"/>
<line x1="38.3" y1="599.2" x2="38.3" y2="560.3" stroke="#929292" stroke-width="0.8" stroke-linecap="butt"/>
<path d="M38.3,560.3 L104.9,560.3" fill="none" stroke="#0c0c0c" stroke-width="1.8" stroke-linecap="square" stroke-linejoin="miter"/>
<text x="65.4" y="646.8" font-size="6.6" font-weight="bold" fill="#2a2a2a" stroke="#2a2a2a" stroke-width="0.2" text-anchor="middle" textLength="10" lengthAdjust="spacingAndGlyphs">BED</text>
<text x="65.4" y="654.8" font-size="7.4" font-weight="bold" fill="#2a2a2a" stroke="#2a2a2a" stroke-width="0.2" text-anchor="middle" textLength="30.5" lengthAdjust="spacingAndGlyphs">11'6&quot; X 9'6&quot;</text>
<text x="64" y="611.1" font-size="6.6" font-weight="bold" fill="#2a2a2a" stroke="#2a2a2a" stroke-width="0.2" text-anchor="middle" textLength="21.6" lengthAdjust="spacingAndGlyphs">KITCHEN</text>
<text x="64" y="619.1" font-size="7.4" font-weight="bold" fill="#2a2a2a" stroke="#2a2a2a" stroke-width="0.2" text-anchor="middle" textLength="31" lengthAdjust="spacingAndGlyphs">11'6&quot; X 7'0&quot;</text>
<text x="76.3" y="578.8" font-size="6.6" font-weight="bold" fill="#2a2a2a" stroke="#2a2a2a" stroke-width="0.2" text-anchor="middle" textLength="16" lengthAdjust="spacingAndGlyphs">LIVING</text>
<text x="76.3" y="586.8" font-size="7.4" font-weight="bold" fill="#2a2a2a" stroke="#2a2a2a" stroke-width="0.2" text-anchor="middle" textLength="31" lengthAdjust="spacingAndGlyphs">14'6&quot; X 9'6&quot;</text>
<text x="96.3" y="636.05" font-size="4.3" font-weight="bold" fill="#2a2a2a" stroke="#2a2a2a" stroke-width="0.2" text-anchor="middle" textLength="13.9" lengthAdjust="spacingAndGlyphs">TOILET</text>
<text x="96.3" y="641.75" font-size="4.3" font-weight="bold" fill="#2a2a2a" stroke="#2a2a2a" stroke-width="0.2" text-anchor="middle" textLength="11.5" lengthAdjust="spacingAndGlyphs">4'0&quot; X</text>
<text x="96.3" y="647.65" font-size="4.3" font-weight="bold" fill="#2a2a2a" stroke="#2a2a2a" stroke-width="0.2" text-anchor="middle" textLength="8.9" lengthAdjust="spacingAndGlyphs">5'0&quot;</text>
<text x="96.3" y="607.25" font-size="4.3" font-weight="bold" fill="#2a2a2a" stroke="#2a2a2a" stroke-width="0.2" text-anchor="middle" textLength="13.9" lengthAdjust="spacingAndGlyphs">TOILET</text>
<text x="96.3" y="612.95" font-size="4.3" font-weight="bold" fill="#2a2a2a" stroke="#2a2a2a" stroke-width="0.2" text-anchor="middle" textLength="11.5" lengthAdjust="spacingAndGlyphs">4'0&quot; X</text>
<text x="96.3" y="618.85" font-size="4.3" font-weight="bold" fill="#2a2a2a" stroke="#2a2a2a" stroke-width="0.2" text-anchor="middle" textLength="8.9" lengthAdjust="spacingAndGlyphs">4'0&quot;</text>
<line x1="105" y1="560.3" x2="105" y2="575" stroke="#777" stroke-width="1.2" stroke-linecap="butt"/>
<path d="M134,560.3 L187.7,560.3 L211,583 L211,637" fill="none" stroke="#0c0c0c" stroke-width="1.8" stroke-linecap="square" stroke-linejoin="miter"/>
<line x1="192" y1="564.5" x2="206.5" y2="578.5" stroke="#7c7c7c" stroke-width="2.0" stroke-linecap="butt"/>
<path d="M105.1,580.8 L119.6,580.8 L190.3,651.5 L190.3,666.3" fill="none" stroke="#0c0c0c" stroke-width="1.8" stroke-linecap="square" stroke-linejoin="miter"/>
<path d="M165.2,597 L146.5,577.4 L175.3,577.4 L193.6,596 L193.6,624.6 L174,605.2" fill="none" stroke="#0c0c0c" stroke-width="1.8" stroke-linecap="square" stroke-linejoin="miter"/>
<path d="M175.3,577.9 L162.2,592" fill="none" stroke="#0c0c0c" stroke-width="1.8" stroke-linecap="square" stroke-linejoin="miter"/>
<path d="M191.6,596.2 L178.2,609.4" fill="none" stroke="#0c0c0c" stroke-width="1.8" stroke-linecap="square" stroke-linejoin="miter"/>
<g transform="translate(177,593.5) rotate(45)">
<text x="0" y="-3.6" font-size="5" font-weight="bold" fill="#2a2a2a" stroke="#2a2a2a" stroke-width="0.2" text-anchor="middle" textLength="8.5" lengthAdjust="spacingAndGlyphs">LIFT</text>
<text x="0" y="2.4" font-size="5" font-weight="bold" fill="#2a2a2a" stroke="#2a2a2a" stroke-width="0.2" text-anchor="middle" textLength="12.5" lengthAdjust="spacingAndGlyphs">5'6&quot; X</text>
<text x="0" y="8.2" font-size="5" font-weight="bold" fill="#2a2a2a" stroke="#2a2a2a" stroke-width="0.2" text-anchor="middle" textLength="8.5" lengthAdjust="spacingAndGlyphs">5'0&quot;</text>
</g>
<line x1="147.5" y1="561.2" x2="147.5" y2="576.5" stroke="#747474" stroke-width="0.8" stroke-linecap="butt"/>
<line x1="150.8" y1="561.2" x2="150.8" y2="576.5" stroke="#747474" stroke-width="0.8" stroke-linecap="butt"/>
<line x1="154.1" y1="561.2" x2="154.1" y2="576.5" stroke="#747474" stroke-width="0.8" stroke-linecap="butt"/>
<line x1="157.4" y1="561.2" x2="157.4" y2="576.5" stroke="#747474" stroke-width="0.8" stroke-linecap="butt"/>
<line x1="160.7" y1="561.2" x2="160.7" y2="576.5" stroke="#747474" stroke-width="0.8" stroke-linecap="butt"/>
<line x1="164" y1="561.2" x2="164" y2="576.5" stroke="#747474" stroke-width="0.8" stroke-linecap="butt"/>
<line x1="167.3" y1="561.2" x2="167.3" y2="576.5" stroke="#747474" stroke-width="0.8" stroke-linecap="butt"/>
<line x1="170.6" y1="561.2" x2="170.6" y2="576.5" stroke="#747474" stroke-width="0.8" stroke-linecap="butt"/>
<line x1="173.9" y1="561.2" x2="173.9" y2="576.5" stroke="#747474" stroke-width="0.8" stroke-linecap="butt"/>
<line x1="194" y1="597.8" x2="210" y2="597.8" stroke="#747474" stroke-width="0.8" stroke-linecap="butt"/>
<line x1="194" y1="601.2" x2="210" y2="601.2" stroke="#747474" stroke-width="0.8" stroke-linecap="butt"/>
<line x1="194" y1="604.6" x2="210" y2="604.6" stroke="#747474" stroke-width="0.8" stroke-linecap="butt"/>
<line x1="194" y1="608" x2="210" y2="608" stroke="#747474" stroke-width="0.8" stroke-linecap="butt"/>
<line x1="194" y1="611.4" x2="210" y2="611.4" stroke="#747474" stroke-width="0.8" stroke-linecap="butt"/>
<line x1="194" y1="614.8" x2="210" y2="614.8" stroke="#747474" stroke-width="0.8" stroke-linecap="butt"/>
<line x1="194" y1="618.2" x2="210" y2="618.2" stroke="#747474" stroke-width="0.8" stroke-linecap="butt"/>
<line x1="194" y1="621.6" x2="210" y2="621.6" stroke="#747474" stroke-width="0.8" stroke-linecap="butt"/>
<circle cx="100" cy="568.8" r="3.4" fill="#e9d9d3" stroke="#e49a82" stroke-width="0.8"/>
<circle cx="220" cy="642" r="3.4" fill="#e9d9d3" stroke="#e49a82" stroke-width="0.8"/>
<circle cx="220" cy="661.7" r="3.4" fill="#e9d9d3" stroke="#e49a82" stroke-width="0.8"/>
<circle cx="199.7" cy="671" r="3.4" fill="#e9d9d3" stroke="#e49a82" stroke-width="0.8"/>
<path d="M117.1,666.3 L212,666.3" fill="none" stroke="#0c0c0c" stroke-width="1.8" stroke-linecap="square" stroke-linejoin="miter"/>
<path d="M117.1,666.3 L117.1,683.4" fill="none" stroke="#0c0c0c" stroke-width="1.8" stroke-linecap="square" stroke-linejoin="miter"/>
<path d="M144.4,666.3 L144.4,683.4" fill="none" stroke="#0c0c0c" stroke-width="1.8" stroke-linecap="square" stroke-linejoin="miter"/>
<path d="M172.5,666.3 L172.5,690" fill="none" stroke="#0c0c0c" stroke-width="1.8" stroke-linecap="square" stroke-linejoin="miter"/>
<path d="M172.5,700 L172.5,739.3" fill="none" stroke="#0c0c0c" stroke-width="1.8" stroke-linecap="square" stroke-linejoin="miter"/>
<path d="M104.4,683.4 L128,683.4" fill="none" stroke="#0c0c0c" stroke-width="1.8" stroke-linecap="square" stroke-linejoin="miter"/>
<path d="M138,683.4 L158,683.4" fill="none" stroke="#0c0c0c" stroke-width="1.8" stroke-linecap="square" stroke-linejoin="miter"/>
<path d="M104.4,683.4 L104.4,738.5" fill="none" stroke="#0c0c0c" stroke-width="1.8" stroke-linecap="square" stroke-linejoin="miter"/>
<path d="M142.7,697 L142.7,739.3 L172.5,739.3" fill="none" stroke="#0c0c0c" stroke-width="1.8" stroke-linecap="square" stroke-linejoin="miter"/>
<path d="M130,683.4 A12.7,12.7 0 0 0 142.7,696" fill="none" stroke="#a8a8a8" stroke-width="0.6"/>
<path d="M104.4,729.4 L172.5,729.4" fill="none" stroke="#0c0c0c" stroke-width="1.8" stroke-linecap="square" stroke-linejoin="miter"/>
<line x1="112" y1="729.4" x2="136" y2="729.4" stroke="#7c7c7c" stroke-width="2.0" stroke-linecap="butt"/>
<line x1="148" y1="729.4" x2="167" y2="729.4" stroke="#7c7c7c" stroke-width="2.0" stroke-linecap="butt"/>
<line x1="104.4" y1="738.5" x2="142.7" y2="738.5" stroke="#929292" stroke-width="0.8" stroke-linecap="butt"/>
<line x1="148" y1="739.3" x2="167" y2="739.3" stroke="#7c7c7c" stroke-width="2.0" stroke-linecap="butt"/>
<text x="157.6" y="735.5" font-size="3.4" font-weight="bold" fill="#555" text-anchor="middle" textLength="17" lengthAdjust="spacingAndGlyphs">DUCT SHAFT</text>
<path d="M172.5,724.3 L211.7,724.3" fill="none" stroke="#0c0c0c" stroke-width="1.8" stroke-linecap="square" stroke-linejoin="miter"/>
<line x1="180" y1="724.3" x2="204" y2="724.3" stroke="#7c7c7c" stroke-width="2.0" stroke-linecap="butt"/>
<line x1="172.5" y1="732.8" x2="211.7" y2="732.8" stroke="#929292" stroke-width="0.8" stroke-linecap="butt"/>
<path d="M211.7,665.6 L211.7,732.8" fill="none" stroke="#0c0c0c" stroke-width="1.8" stroke-linecap="square" stroke-linejoin="miter"/>
<text x="131.6" y="673.2" font-size="5.2" font-weight="bold" fill="#2a2a2a" stroke="#2a2a2a" stroke-width="0.2" text-anchor="middle" textLength="6.3" lengthAdjust="spacingAndGlyphs">TOIL.</text>
<text x="131.6" y="679.2" font-size="5.2" font-weight="bold" fill="#2a2a2a" stroke="#2a2a2a" stroke-width="0.2" text-anchor="middle" textLength="20.5" lengthAdjust="spacingAndGlyphs">6'0&quot; X 4'0&quot;</text>
<text x="158" y="673.2" font-size="5.2" font-weight="bold" fill="#2a2a2a" stroke="#2a2a2a" stroke-width="0.2" text-anchor="middle" textLength="6.3" lengthAdjust="spacingAndGlyphs">TOIL.</text>
<text x="158" y="679.2" font-size="5.2" font-weight="bold" fill="#2a2a2a" stroke="#2a2a2a" stroke-width="0.2" text-anchor="middle" textLength="20.5" lengthAdjust="spacingAndGlyphs">6'0&quot; X 4'0&quot;</text>
<text x="123.8" y="707.4" font-size="6.6" font-weight="bold" fill="#2a2a2a" stroke="#2a2a2a" stroke-width="0.2" text-anchor="middle" textLength="10" lengthAdjust="spacingAndGlyphs">BED</text>
<text x="123.8" y="715.4" font-size="7.4" font-weight="bold" fill="#2a2a2a" stroke="#2a2a2a" stroke-width="0.2" text-anchor="middle" textLength="30.5" lengthAdjust="spacingAndGlyphs">11'6&quot; X 9'6&quot;</text>
<text x="158" y="703.4" font-size="6.6" font-weight="bold" fill="#2a2a2a" stroke="#2a2a2a" stroke-width="0.2" text-anchor="middle" textLength="21.6" lengthAdjust="spacingAndGlyphs">KITCHEN</text>
<text x="158" y="711.2" font-size="7.4" font-weight="bold" fill="#2a2a2a" stroke="#2a2a2a" stroke-width="0.2" text-anchor="middle" textLength="16" lengthAdjust="spacingAndGlyphs">7'0&quot; X</text>
<text x="158" y="719.2" font-size="7.4" font-weight="bold" fill="#2a2a2a" stroke="#2a2a2a" stroke-width="0.2" text-anchor="middle" textLength="13.3" lengthAdjust="spacingAndGlyphs">11'6&quot;</text>
<text x="192" y="690.5" font-size="6.6" font-weight="bold" fill="#2a2a2a" stroke="#2a2a2a" stroke-width="0.2" text-anchor="middle" textLength="16" lengthAdjust="spacingAndGlyphs">LIVING</text>
<text x="192" y="698.5" font-size="7.4" font-weight="bold" fill="#2a2a2a" stroke="#2a2a2a" stroke-width="0.2" text-anchor="middle" textLength="32" lengthAdjust="spacingAndGlyphs">9'6&quot; X 14'6&quot;</text>
<path d="M211.3,593 L249.6,593" fill="none" stroke="#0c0c0c" stroke-width="1.8" stroke-linecap="square" stroke-linejoin="miter"/>
<line x1="218" y1="593" x2="243" y2="593" stroke="#7c7c7c" stroke-width="2.0" stroke-linecap="butt"/>
<line x1="211.3" y1="585" x2="249.6" y2="585" stroke="#929292" stroke-width="0.8" stroke-linecap="butt"/>
<path d="M249.6,568 L249.6,609.7" fill="none" stroke="#0c0c0c" stroke-width="1.8" stroke-linecap="square" stroke-linejoin="miter"/>
<path d="M249.6,623.4 L249.6,651.5" fill="none" stroke="#0c0c0c" stroke-width="1.8" stroke-linecap="square" stroke-linejoin="miter"/>
<path d="M249.6,568 L279.4,568" fill="none" stroke="#0c0c0c" stroke-width="1.8" stroke-linecap="square" stroke-linejoin="miter"/>
<path d="M249.6,577.4 L279.4,577.4" fill="none" stroke="#0c0c0c" stroke-width="1.8" stroke-linecap="square" stroke-linejoin="miter"/>
<line x1="256" y1="577.4" x2="273" y2="577.4" stroke="#7c7c7c" stroke-width="2.0" stroke-linecap="butt"/>
<line x1="256" y1="568" x2="273" y2="568" stroke="#7c7c7c" stroke-width="2.0" stroke-linecap="butt"/>
<text x="264.5" y="573.9" font-size="3.4" font-weight="bold" fill="#555" text-anchor="middle" textLength="17" lengthAdjust="spacingAndGlyphs">DUCT SHAFT</text>
<path d="M279.4,568 L279.4,611.4" fill="none" stroke="#0c0c0c" stroke-width="1.8" stroke-linecap="square" stroke-linejoin="miter"/>
<path d="M279.4,577.4 L317,577.4" fill="none" stroke="#0c0c0c" stroke-width="1.8" stroke-linecap="square" stroke-linejoin="miter"/>
<line x1="287" y1="577.4" x2="310" y2="577.4" stroke="#7c7c7c" stroke-width="2.0" stroke-linecap="butt"/>
<line x1="279.4" y1="570" x2="317" y2="570" stroke="#929292" stroke-width="0.8" stroke-linecap="butt"/>
<path d="M317,557 L317,624.2" fill="none" stroke="#0c0c0c" stroke-width="1.8" stroke-linecap="square" stroke-linejoin="miter"/>
<path d="M260.7,623.7 L317,623.7" fill="none" stroke="#0c0c0c" stroke-width="1.8" stroke-linecap="square" stroke-linejoin="miter"/>
<path d="M249.6,623.4 L252,623.4" fill="none" stroke="#0c0c0c" stroke-width="1.8" stroke-linecap="square" stroke-linejoin="miter"/>
<path d="M265.8,623.4 L265.8,651.5" fill="none" stroke="#0c0c0c" stroke-width="1.8" stroke-linecap="square" stroke-linejoin="miter"/>
<path d="M294,623.7 L294,641.3 L266.7,641.3" fill="none" stroke="#0c0c0c" stroke-width="1.8" stroke-linecap="square" stroke-linejoin="miter"/>
<path d="M279.4,611.4 A12,12 0 0 0 291,623.7" fill="none" stroke="#a8a8a8" stroke-width="0.6"/>
<path d="M210.4,651.5 L267.3,651.5" fill="none" stroke="#0c0c0c" stroke-width="1.8" stroke-linecap="square" stroke-linejoin="miter"/>
<path d="M211.3,709.4 L249.6,709.4" fill="none" stroke="#0c0c0c" stroke-width="1.8" stroke-linecap="square" stroke-linejoin="miter"/>
<line x1="218" y1="709.4" x2="243" y2="709.4" stroke="#7c7c7c" stroke-width="2.0" stroke-linecap="butt"/>
<line x1="211.3" y1="717.4" x2="249.6" y2="717.4" stroke="#929292" stroke-width="0.8" stroke-linecap="butt"/>
<path d="M249.6,734.4 L249.6,692.7" fill="none" stroke="#0c0c0c" stroke-width="1.8" stroke-linecap="square" stroke-linejoin="miter"/>
<path d="M249.6,679 L249.6,650.9" fill="none" stroke="#0c0c0c" stroke-width="1.8" stroke-linecap="square" stroke-linejoin="miter"/>
<path d="M249.6,734.4 L279.4,734.4" fill="none" stroke="#0c0c0c" stroke-width="1.8" stroke-linecap="square" stroke-linejoin="miter"/>
<path d="M249.6,725 L279.4,725" fill="none" stroke="#0c0c0c" stroke-width="1.8" stroke-linecap="square" stroke-linejoin="miter"/>
<line x1="256" y1="725" x2="273" y2="725" stroke="#7c7c7c" stroke-width="2.0" stroke-linecap="butt"/>
<line x1="256" y1="734.4" x2="273" y2="734.4" stroke="#7c7c7c" stroke-width="2.0" stroke-linecap="butt"/>
<text x="264.5" y="730.9" font-size="3.4" font-weight="bold" fill="#555" text-anchor="middle" textLength="17" lengthAdjust="spacingAndGlyphs">DUCT SHAFT</text>
<path d="M279.4,734.4 L279.4,691" fill="none" stroke="#0c0c0c" stroke-width="1.8" stroke-linecap="square" stroke-linejoin="miter"/>
<path d="M279.4,725 L317,725" fill="none" stroke="#0c0c0c" stroke-width="1.8" stroke-linecap="square" stroke-linejoin="miter"/>
<line x1="287" y1="725" x2="310" y2="725" stroke="#7c7c7c" stroke-width="2.0" stroke-linecap="butt"/>
<line x1="279.4" y1="732.4" x2="317" y2="732.4" stroke="#929292" stroke-width="0.8" stroke-linecap="butt"/>
<path d="M317,739.7 L317,678.2" fill="none" stroke="#0c0c0c" stroke-width="1.8" stroke-linecap="square" stroke-linejoin="miter"/>
<path d="M260.7,678.7 L317,678.7" fill="none" stroke="#0c0c0c" stroke-width="1.8" stroke-linecap="square" stroke-linejoin="miter"/>
<path d="M249.6,679 L252,679" fill="none" stroke="#0c0c0c" stroke-width="1.8" stroke-linecap="square" stroke-linejoin="miter"/>
<path d="M265.8,679 L265.8,650.9" fill="none" stroke="#0c0c0c" stroke-width="1.8" stroke-linecap="square" stroke-linejoin="miter"/>
<path d="M294,678.7 L294,661.1 L266.7,661.1" fill="none" stroke="#0c0c0c" stroke-width="1.8" stroke-linecap="square" stroke-linejoin="miter"/>
<path d="M279.4,691 A12,12 0 0 1 291,678.7" fill="none" stroke="#a8a8a8" stroke-width="0.6"/>
<path d="M210.4,650.9 L267.3,650.9" fill="none" stroke="#0c0c0c" stroke-width="1.8" stroke-linecap="square" stroke-linejoin="miter"/>
<text x="230.2" y="622.2" font-size="6.6" font-weight="bold" fill="#2a2a2a" stroke="#2a2a2a" stroke-width="0.2" text-anchor="middle" textLength="16" lengthAdjust="spacingAndGlyphs">LIVING</text>
<text x="230.2" y="630.2" font-size="7.4" font-weight="bold" fill="#2a2a2a" stroke="#2a2a2a" stroke-width="0.2" text-anchor="middle" textLength="32.5" lengthAdjust="spacingAndGlyphs">9'6&quot; X 14'6&quot;</text>
<text x="264.8" y="599.6" font-size="6.6" font-weight="bold" fill="#2a2a2a" stroke="#2a2a2a" stroke-width="0.2" text-anchor="middle" textLength="21.6" lengthAdjust="spacingAndGlyphs">KITCHEN</text>
<text x="264.8" y="607.4" font-size="7.4" font-weight="bold" fill="#2a2a2a" stroke="#2a2a2a" stroke-width="0.2" text-anchor="middle" textLength="16" lengthAdjust="spacingAndGlyphs">7'0&quot; X</text>
<text x="264.8" y="615.4" font-size="7.4" font-weight="bold" fill="#2a2a2a" stroke="#2a2a2a" stroke-width="0.2" text-anchor="middle" textLength="13.3" lengthAdjust="spacingAndGlyphs">11'6&quot;</text>
<text x="298" y="598.1" font-size="6.6" font-weight="bold" fill="#2a2a2a" stroke="#2a2a2a" stroke-width="0.2" text-anchor="middle" textLength="10" lengthAdjust="spacingAndGlyphs">BED</text>
<text x="298" y="606.1" font-size="7.4" font-weight="bold" fill="#2a2a2a" stroke="#2a2a2a" stroke-width="0.2" text-anchor="middle" textLength="31.8" lengthAdjust="spacingAndGlyphs">9'6&quot; X 11'6&quot;</text>
<text x="258.3" y="631.3" font-size="4.6" font-weight="bold" fill="#2a2a2a" stroke="#2a2a2a" stroke-width="0.2" text-anchor="middle" textLength="7" lengthAdjust="spacingAndGlyphs">TOIL.</text>
<text x="258.3" y="637.3" font-size="4.6" font-weight="bold" fill="#2a2a2a" stroke="#2a2a2a" stroke-width="0.2" text-anchor="middle" textLength="9.5" lengthAdjust="spacingAndGlyphs">4'0&quot; X</text>
<text x="258.3" y="643.3" font-size="4.6" font-weight="bold" fill="#2a2a2a" stroke="#2a2a2a" stroke-width="0.2" text-anchor="middle" textLength="7.5" lengthAdjust="spacingAndGlyphs">8'0&quot;</text>
<text x="280.6" y="631.9" font-size="5.2" font-weight="bold" fill="#2a2a2a" stroke="#2a2a2a" stroke-width="0.2" text-anchor="middle" textLength="6.3" lengthAdjust="spacingAndGlyphs">TOIL.</text>
<text x="280.6" y="637.9" font-size="5.2" font-weight="bold" fill="#2a2a2a" stroke="#2a2a2a" stroke-width="0.2" text-anchor="middle" textLength="20.5" lengthAdjust="spacingAndGlyphs">6'0&quot; X 4'0&quot;</text>
<text x="230" y="680" font-size="6.6" font-weight="bold" fill="#2a2a2a" stroke="#2a2a2a" stroke-width="0.2" text-anchor="middle" textLength="16" lengthAdjust="spacingAndGlyphs">LIVING</text>
<text x="230" y="688" font-size="7.4" font-weight="bold" fill="#2a2a2a" stroke="#2a2a2a" stroke-width="0.2" text-anchor="middle" textLength="32.5" lengthAdjust="spacingAndGlyphs">9'6&quot; X 14'6&quot;</text>
<text x="264.8" y="703.6" font-size="6.6" font-weight="bold" fill="#2a2a2a" stroke="#2a2a2a" stroke-width="0.2" text-anchor="middle" textLength="21.6" lengthAdjust="spacingAndGlyphs">KITCHEN</text>
<text x="264.8" y="711.4" font-size="7.4" font-weight="bold" fill="#2a2a2a" stroke="#2a2a2a" stroke-width="0.2" text-anchor="middle" textLength="16" lengthAdjust="spacingAndGlyphs">7'0&quot; X</text>
<text x="264.8" y="719.4" font-size="7.4" font-weight="bold" fill="#2a2a2a" stroke="#2a2a2a" stroke-width="0.2" text-anchor="middle" textLength="13.3" lengthAdjust="spacingAndGlyphs">11'6&quot;</text>
<text x="298" y="707.8" font-size="6.6" font-weight="bold" fill="#2a2a2a" stroke="#2a2a2a" stroke-width="0.2" text-anchor="middle" textLength="10" lengthAdjust="spacingAndGlyphs">BED</text>
<text x="298" y="715.8" font-size="7.4" font-weight="bold" fill="#2a2a2a" stroke="#2a2a2a" stroke-width="0.2" text-anchor="middle" textLength="31.8" lengthAdjust="spacingAndGlyphs">9'6&quot; X 11'6&quot;</text>
<text x="258" y="659.5" font-size="4.6" font-weight="bold" fill="#2a2a2a" stroke="#2a2a2a" stroke-width="0.2" text-anchor="middle" textLength="7" lengthAdjust="spacingAndGlyphs">TOIL.</text>
<text x="258" y="665.5" font-size="4.6" font-weight="bold" fill="#2a2a2a" stroke="#2a2a2a" stroke-width="0.2" text-anchor="middle" textLength="9.5" lengthAdjust="spacingAndGlyphs">4'0&quot; X</text>
<text x="258" y="671.5" font-size="4.6" font-weight="bold" fill="#2a2a2a" stroke="#2a2a2a" stroke-width="0.2" text-anchor="middle" textLength="7.5" lengthAdjust="spacingAndGlyphs">8'0&quot;</text>
<text x="279.5" y="668.9" font-size="5.2" font-weight="bold" fill="#2a2a2a" stroke="#2a2a2a" stroke-width="0.2" text-anchor="middle" textLength="6.3" lengthAdjust="spacingAndGlyphs">TOIL.</text>
<text x="279.5" y="674.9" font-size="5.2" font-weight="bold" fill="#2a2a2a" stroke="#2a2a2a" stroke-width="0.2" text-anchor="middle" textLength="20.5" lengthAdjust="spacingAndGlyphs">6'0&quot; X 4'0&quot;</text>
<path d="M317.7,557 L317.7,610.6" fill="none" stroke="#0c0c0c" stroke-width="1.8" stroke-linecap="square" stroke-linejoin="miter"/>
<path d="M317.7,565.4 L356,565.4" fill="none" stroke="#0c0c0c" stroke-width="1.8" stroke-linecap="square" stroke-linejoin="miter"/>
<line x1="325" y1="565.4" x2="349" y2="565.4" stroke="#7c7c7c" stroke-width="2.0" stroke-linecap="butt"/>
<line x1="317.7" y1="557.8" x2="356" y2="557.8" stroke="#929292" stroke-width="0.8" stroke-linecap="butt"/>
<path d="M356,556 L356,599.5" fill="none" stroke="#0c0c0c" stroke-width="1.8" stroke-linecap="square" stroke-linejoin="miter"/>
<path d="M385,556 L385,597" fill="none" stroke="#0c0c0c" stroke-width="1.8" stroke-linecap="square" stroke-linejoin="miter"/>
<path d="M356,556 L385,556" fill="none" stroke="#0c0c0c" stroke-width="1.8" stroke-linecap="square" stroke-linejoin="miter"/>
<path d="M356,565.4 L385,565.4" fill="none" stroke="#0c0c0c" stroke-width="1.8" stroke-linecap="square" stroke-linejoin="miter"/>
<line x1="362" y1="565.4" x2="380" y2="565.4" stroke="#7c7c7c" stroke-width="2.0" stroke-linecap="butt"/>
<line x1="362" y1="556" x2="380" y2="556" stroke="#7c7c7c" stroke-width="2.0" stroke-linecap="butt"/>
<text x="370.5" y="561.9" font-size="3.4" font-weight="bold" fill="#555" text-anchor="middle" textLength="17" lengthAdjust="spacingAndGlyphs">DUCT SHAFT</text>
<path d="M317.7,610.6 L344,610.6" fill="none" stroke="#0c0c0c" stroke-width="1.8" stroke-linecap="square" stroke-linejoin="miter"/>
<path d="M348.3,610.6 L374.7,610.6" fill="none" stroke="#0c0c0c" stroke-width="1.8" stroke-linecap="square" stroke-linejoin="miter"/>
<path d="M344,610.6 A12,12 0 0 1 356,598.6" fill="none" stroke="#a8a8a8" stroke-width="0.6"/>
<path d="M330.4,610.6 L330.4,628.5 L385,628.5" fill="none" stroke="#0c0c0c" stroke-width="1.8" stroke-linecap="square" stroke-linejoin="miter"/>
<path d="M357.7,610.6 L357.7,628.5" fill="none" stroke="#0c0c0c" stroke-width="1.8" stroke-linecap="square" stroke-linejoin="miter"/>
<line x1="340" y1="628.5" x2="348" y2="628.5" stroke="#7c7c7c" stroke-width="2.0" stroke-linecap="butt"/>
<line x1="366" y1="628.5" x2="374" y2="628.5" stroke="#7c7c7c" stroke-width="2.0" stroke-linecap="butt"/>
<path d="M385,612 L385,628.5" fill="none" stroke="#0c0c0c" stroke-width="1.8" stroke-linecap="square" stroke-linejoin="miter"/>
<path d="M385,570.2 L423.8,570.2" fill="none" stroke="#0c0c0c" stroke-width="1.8" stroke-linecap="square" stroke-linejoin="miter"/>
<line x1="393" y1="570.2" x2="416" y2="570.2" stroke="#7c7c7c" stroke-width="2.0" stroke-linecap="butt"/>
<line x1="385" y1="561.7" x2="423.8" y2="561.7" stroke="#929292" stroke-width="0.8" stroke-linecap="butt"/>
<path d="M423.8,562 L423.8,628.5" fill="none" stroke="#0c0c0c" stroke-width="1.8" stroke-linecap="square" stroke-linejoin="miter"/>
<path d="M317.7,739.8 L317.7,686.2" fill="none" stroke="#0c0c0c" stroke-width="1.8" stroke-linecap="square" stroke-linejoin="miter"/>
<path d="M317.7,731.4 L356,731.4" fill="none" stroke="#0c0c0c" stroke-width="1.8" stroke-linecap="square" stroke-linejoin="miter"/>
<line x1="325" y1="731.4" x2="349" y2="731.4" stroke="#7c7c7c" stroke-width="2.0" stroke-linecap="butt"/>
<line x1="317.7" y1="739" x2="356" y2="739" stroke="#929292" stroke-width="0.8" stroke-linecap="butt"/>
<path d="M356,740.8 L356,697.3" fill="none" stroke="#0c0c0c" stroke-width="1.8" stroke-linecap="square" stroke-linejoin="miter"/>
<path d="M385,740.8 L385,699.8" fill="none" stroke="#0c0c0c" stroke-width="1.8" stroke-linecap="square" stroke-linejoin="miter"/>
<path d="M356,740.8 L385,740.8" fill="none" stroke="#0c0c0c" stroke-width="1.8" stroke-linecap="square" stroke-linejoin="miter"/>
<path d="M356,731.4 L385,731.4" fill="none" stroke="#0c0c0c" stroke-width="1.8" stroke-linecap="square" stroke-linejoin="miter"/>
<line x1="362" y1="731.4" x2="380" y2="731.4" stroke="#7c7c7c" stroke-width="2.0" stroke-linecap="butt"/>
<line x1="362" y1="740.8" x2="380" y2="740.8" stroke="#7c7c7c" stroke-width="2.0" stroke-linecap="butt"/>
<text x="370.5" y="737.3" font-size="3.4" font-weight="bold" fill="#555" text-anchor="middle" textLength="17" lengthAdjust="spacingAndGlyphs">DUCT SHAFT</text>
<path d="M317.7,686.2 L344,686.2" fill="none" stroke="#0c0c0c" stroke-width="1.8" stroke-linecap="square" stroke-linejoin="miter"/>
<path d="M348.3,686.2 L374.7,686.2" fill="none" stroke="#0c0c0c" stroke-width="1.8" stroke-linecap="square" stroke-linejoin="miter"/>
<path d="M344,686.2 A12,12 0 0 0 356,698.2" fill="none" stroke="#a8a8a8" stroke-width="0.6"/>
<path d="M330.4,686.2 L330.4,668.3 L385,668.3" fill="none" stroke="#0c0c0c" stroke-width="1.8" stroke-linecap="square" stroke-linejoin="miter"/>
<path d="M357.7,686.2 L357.7,668.3" fill="none" stroke="#0c0c0c" stroke-width="1.8" stroke-linecap="square" stroke-linejoin="miter"/>
<line x1="340" y1="668.3" x2="348" y2="668.3" stroke="#7c7c7c" stroke-width="2.0" stroke-linecap="butt"/>
<line x1="366" y1="668.3" x2="374" y2="668.3" stroke="#7c7c7c" stroke-width="2.0" stroke-linecap="butt"/>
<path d="M385,684.8 L385,668.3" fill="none" stroke="#0c0c0c" stroke-width="1.8" stroke-linecap="square" stroke-linejoin="miter"/>
<path d="M385,726.6 L423.8,726.6" fill="none" stroke="#0c0c0c" stroke-width="1.8" stroke-linecap="square" stroke-linejoin="miter"/>
<line x1="393" y1="726.6" x2="416" y2="726.6" stroke="#7c7c7c" stroke-width="2.0" stroke-linecap="butt"/>
<line x1="385" y1="735.1" x2="423.8" y2="735.1" stroke="#929292" stroke-width="0.8" stroke-linecap="butt"/>
<path d="M423.8,734.8 L423.8,668.3" fill="none" stroke="#0c0c0c" stroke-width="1.8" stroke-linecap="square" stroke-linejoin="miter"/>
<path d="M529.9,557 L529.9,610.6" fill="none" stroke="#0c0c0c" stroke-width="1.8" stroke-linecap="square" stroke-linejoin="miter"/>
<path d="M529.9,565.4 L491.6,565.4" fill="none" stroke="#0c0c0c" stroke-width="1.8" stroke-linecap="square" stroke-linejoin="miter"/>
<line x1="522.6" y1="565.4" x2="498.6" y2="565.4" stroke="#7c7c7c" stroke-width="2.0" stroke-linecap="butt"/>
<line x1="529.9" y1="557.8" x2="491.6" y2="557.8" stroke="#929292" stroke-width="0.8" stroke-linecap="butt"/>
<path d="M491.6,556 L491.6,599.5" fill="none" stroke="#0c0c0c" stroke-width="1.8" stroke-linecap="square" stroke-linejoin="miter"/>
<path d="M462.6,556 L462.6,597" fill="none" stroke="#0c0c0c" stroke-width="1.8" stroke-linecap="square" stroke-linejoin="miter"/>
<path d="M491.6,556 L462.6,556" fill="none" stroke="#0c0c0c" stroke-width="1.8" stroke-linecap="square" stroke-linejoin="miter"/>
<path d="M491.6,565.4 L462.6,565.4" fill="none" stroke="#0c0c0c" stroke-width="1.8" stroke-linecap="square" stroke-linejoin="miter"/>
<line x1="485.6" y1="565.4" x2="467.6" y2="565.4" stroke="#7c7c7c" stroke-width="2.0" stroke-linecap="butt"/>
<line x1="485.6" y1="556" x2="467.6" y2="556" stroke="#7c7c7c" stroke-width="2.0" stroke-linecap="butt"/>
<text x="477.1" y="561.9" font-size="3.4" font-weight="bold" fill="#555" text-anchor="middle" textLength="17" lengthAdjust="spacingAndGlyphs">DUCT SHAFT</text>
<path d="M529.9,610.6 L503.6,610.6" fill="none" stroke="#0c0c0c" stroke-width="1.8" stroke-linecap="square" stroke-linejoin="miter"/>
<path d="M499.3,610.6 L472.9,610.6" fill="none" stroke="#0c0c0c" stroke-width="1.8" stroke-linecap="square" stroke-linejoin="miter"/>
<path d="M503.6,610.6 A12,12 0 0 0 491.6,598.6" fill="none" stroke="#a8a8a8" stroke-width="0.6"/>
<path d="M517.2,610.6 L517.2,628.5 L462.6,628.5" fill="none" stroke="#0c0c0c" stroke-width="1.8" stroke-linecap="square" stroke-linejoin="miter"/>
<path d="M489.9,610.6 L489.9,628.5" fill="none" stroke="#0c0c0c" stroke-width="1.8" stroke-linecap="square" stroke-linejoin="miter"/>
<line x1="507.6" y1="628.5" x2="499.6" y2="628.5" stroke="#7c7c7c" stroke-width="2.0" stroke-linecap="butt"/>
<line x1="481.6" y1="628.5" x2="473.6" y2="628.5" stroke="#7c7c7c" stroke-width="2.0" stroke-linecap="butt"/>
<path d="M462.6,612 L462.6,628.5" fill="none" stroke="#0c0c0c" stroke-width="1.8" stroke-linecap="square" stroke-linejoin="miter"/>
<path d="M462.6,570.2 L423.8,570.2" fill="none" stroke="#0c0c0c" stroke-width="1.8" stroke-linecap="square" stroke-linejoin="miter"/>
<line x1="454.6" y1="570.2" x2="431.6" y2="570.2" stroke="#7c7c7c" stroke-width="2.0" stroke-linecap="butt"/>
<line x1="462.6" y1="561.7" x2="423.8" y2="561.7" stroke="#929292" stroke-width="0.8" stroke-linecap="butt"/>
<path d="M423.8,562 L423.8,628.5" fill="none" stroke="#0c0c0c" stroke-width="1.8" stroke-linecap="square" stroke-linejoin="miter"/>
<path d="M529.9,739.8 L529.9,686.2" fill="none" stroke="#0c0c0c" stroke-width="1.8" stroke-linecap="square" stroke-linejoin="miter"/>
<path d="M529.9,731.4 L491.6,731.4" fill="none" stroke="#0c0c0c" stroke-width="1.8" stroke-linecap="square" stroke-linejoin="miter"/>
<line x1="522.6" y1="731.4" x2="498.6" y2="731.4" stroke="#7c7c7c" stroke-width="2.0" stroke-linecap="butt"/>
<line x1="529.9" y1="739" x2="491.6" y2="739" stroke="#929292" stroke-width="0.8" stroke-linecap="butt"/>
<path d="M491.6,740.8 L491.6,697.3" fill="none" stroke="#0c0c0c" stroke-width="1.8" stroke-linecap="square" stroke-linejoin="miter"/>
<path d="M462.6,740.8 L462.6,699.8" fill="none" stroke="#0c0c0c" stroke-width="1.8" stroke-linecap="square" stroke-linejoin="miter"/>
<path d="M491.6,740.8 L462.6,740.8" fill="none" stroke="#0c0c0c" stroke-width="1.8" stroke-linecap="square" stroke-linejoin="miter"/>
<path d="M491.6,731.4 L462.6,731.4" fill="none" stroke="#0c0c0c" stroke-width="1.8" stroke-linecap="square" stroke-linejoin="miter"/>
<line x1="485.6" y1="731.4" x2="467.6" y2="731.4" stroke="#7c7c7c" stroke-width="2.0" stroke-linecap="butt"/>
<line x1="485.6" y1="740.8" x2="467.6" y2="740.8" stroke="#7c7c7c" stroke-width="2.0" stroke-linecap="butt"/>
<text x="477.1" y="737.3" font-size="3.4" font-weight="bold" fill="#555" text-anchor="middle" textLength="17" lengthAdjust="spacingAndGlyphs">DUCT SHAFT</text>
<path d="M529.9,686.2 L503.6,686.2" fill="none" stroke="#0c0c0c" stroke-width="1.8" stroke-linecap="square" stroke-linejoin="miter"/>
<path d="M499.3,686.2 L472.9,686.2" fill="none" stroke="#0c0c0c" stroke-width="1.8" stroke-linecap="square" stroke-linejoin="miter"/>
<path d="M503.6,686.2 A12,12 0 0 1 491.6,698.2" fill="none" stroke="#a8a8a8" stroke-width="0.6"/>
<path d="M517.2,686.2 L517.2,668.3 L462.6,668.3" fill="none" stroke="#0c0c0c" stroke-width="1.8" stroke-linecap="square" stroke-linejoin="miter"/>
<path d="M489.9,686.2 L489.9,668.3" fill="none" stroke="#0c0c0c" stroke-width="1.8" stroke-linecap="square" stroke-linejoin="miter"/>
<line x1="507.6" y1="668.3" x2="499.6" y2="668.3" stroke="#7c7c7c" stroke-width="2.0" stroke-linecap="butt"/>
<line x1="481.6" y1="668.3" x2="473.6" y2="668.3" stroke="#7c7c7c" stroke-width="2.0" stroke-linecap="butt"/>
<path d="M462.6,684.8 L462.6,668.3" fill="none" stroke="#0c0c0c" stroke-width="1.8" stroke-linecap="square" stroke-linejoin="miter"/>
<path d="M462.6,726.6 L423.8,726.6" fill="none" stroke="#0c0c0c" stroke-width="1.8" stroke-linecap="square" stroke-linejoin="miter"/>
<line x1="454.6" y1="726.6" x2="431.6" y2="726.6" stroke="#7c7c7c" stroke-width="2.0" stroke-linecap="butt"/>
<line x1="462.6" y1="735.1" x2="423.8" y2="735.1" stroke="#929292" stroke-width="0.8" stroke-linecap="butt"/>
<path d="M423.8,734.8 L423.8,668.3" fill="none" stroke="#0c0c0c" stroke-width="1.8" stroke-linecap="square" stroke-linejoin="miter"/>
<path d="M368,628.5 L368,667.7 L410.5,667.7" fill="none" stroke="#0c0c0c" stroke-width="1.8" stroke-linecap="square" stroke-linejoin="miter"/>
<path d="M368,628.5 L410.5,628.5" fill="none" stroke="#0c0c0c" stroke-width="1.8" stroke-linecap="square" stroke-linejoin="miter"/>
<line x1="368" y1="636" x2="368" y2="660" stroke="#7c7c7c" stroke-width="2.0" stroke-linecap="butt"/>
<line x1="387.5" y1="628.5" x2="387.5" y2="644.8" stroke="#747474" stroke-width="0.8" stroke-linecap="butt"/>
<line x1="387.5" y1="651.6" x2="387.5" y2="667.7" stroke="#747474" stroke-width="0.8" stroke-linecap="butt"/>
<line x1="390.7" y1="628.5" x2="390.7" y2="644.8" stroke="#747474" stroke-width="0.8" stroke-linecap="butt"/>
<line x1="390.7" y1="651.6" x2="390.7" y2="667.7" stroke="#747474" stroke-width="0.8" stroke-linecap="butt"/>
<line x1="393.9" y1="628.5" x2="393.9" y2="644.8" stroke="#747474" stroke-width="0.8" stroke-linecap="butt"/>
<line x1="393.9" y1="651.6" x2="393.9" y2="667.7" stroke="#747474" stroke-width="0.8" stroke-linecap="butt"/>
<line x1="397.1" y1="628.5" x2="397.1" y2="644.8" stroke="#747474" stroke-width="0.8" stroke-linecap="butt"/>
<line x1="397.1" y1="651.6" x2="397.1" y2="667.7" stroke="#747474" stroke-width="0.8" stroke-linecap="butt"/>
<line x1="400.3" y1="628.5" x2="400.3" y2="644.8" stroke="#747474" stroke-width="0.8" stroke-linecap="butt"/>
<line x1="400.3" y1="651.6" x2="400.3" y2="667.7" stroke="#747474" stroke-width="0.8" stroke-linecap="butt"/>
<line x1="403.5" y1="628.5" x2="403.5" y2="644.8" stroke="#747474" stroke-width="0.8" stroke-linecap="butt"/>
<line x1="403.5" y1="651.6" x2="403.5" y2="667.7" stroke="#747474" stroke-width="0.8" stroke-linecap="butt"/>
<line x1="406.7" y1="628.5" x2="406.7" y2="644.8" stroke="#747474" stroke-width="0.8" stroke-linecap="butt"/>
<line x1="406.7" y1="651.6" x2="406.7" y2="667.7" stroke="#747474" stroke-width="0.8" stroke-linecap="butt"/>
<line x1="409.9" y1="628.5" x2="409.9" y2="644.8" stroke="#747474" stroke-width="0.8" stroke-linecap="butt"/>
<line x1="409.9" y1="651.6" x2="409.9" y2="667.7" stroke="#747474" stroke-width="0.8" stroke-linecap="butt"/>
<line x1="368" y1="644.8" x2="387.5" y2="644.8" stroke="#747474" stroke-width="0.7" stroke-linecap="butt"/>
<line x1="368" y1="646.6" x2="387.5" y2="646.6" stroke="#747474" stroke-width="0.7" stroke-linecap="butt"/>
<line x1="368" y1="649.8" x2="387.5" y2="649.8" stroke="#747474" stroke-width="0.7" stroke-linecap="butt"/>
<line x1="368" y1="651.6" x2="387.5" y2="651.6" stroke="#747474" stroke-width="0.7" stroke-linecap="butt"/>
<rect x="387.5" y="644.8" width="21.5" height="6.8" fill="none" stroke="#555" stroke-width="0.9"/>
<line x1="410" y1="628.5" x2="410" y2="667.7" stroke="#777" stroke-width="1.0" stroke-linecap="butt"/>
<path d="M439,628.5 L439,633" fill="none" stroke="#0c0c0c" stroke-width="1.8" stroke-linecap="square" stroke-linejoin="miter"/>
<path d="M439,646 L439,666.8 L462.3,666.8" fill="none" stroke="#0c0c0c" stroke-width="1.8" stroke-linecap="square" stroke-linejoin="miter"/>
<path d="M439,628.5 L462.3,628.5" fill="none" stroke="#0c0c0c" stroke-width="1.8" stroke-linecap="square" stroke-linejoin="miter"/>
<path d="M439,651.5 L462.3,651.5" fill="none" stroke="#0c0c0c" stroke-width="1.8" stroke-linecap="square" stroke-linejoin="miter"/>
<path d="M462.3,628.5 L462.3,668.4" fill="none" stroke="#0c0c0c" stroke-width="1.8" stroke-linecap="square" stroke-linejoin="miter"/>
<line x1="442" y1="654.5" x2="459" y2="664" stroke="#a0a0a0" stroke-width="0.5" stroke-linecap="butt"/>
<line x1="459" y1="654.5" x2="442" y2="664" stroke="#a0a0a0" stroke-width="0.5" stroke-linecap="butt"/>
<circle cx="416.5" cy="623.7" r="3.4" fill="#e9d9d3" stroke="#e49a82" stroke-width="0.8"/>
<circle cx="432.8" cy="623.7" r="3.4" fill="#e9d9d3" stroke="#e49a82" stroke-width="0.8"/>
<circle cx="416.5" cy="673.2" r="3.4" fill="#e9d9d3" stroke="#e49a82" stroke-width="0.8"/>
<circle cx="432.8" cy="673.2" r="3.4" fill="#e9d9d3" stroke="#e49a82" stroke-width="0.8"/>
<text x="337" y="583.4" font-size="6.6" font-weight="bold" fill="#2a2a2a" stroke="#2a2a2a" stroke-width="0.2" text-anchor="middle" textLength="10" lengthAdjust="spacingAndGlyphs">BED</text>
<text x="337" y="591.4" font-size="7.4" font-weight="bold" fill="#2a2a2a" stroke="#2a2a2a" stroke-width="0.2" text-anchor="middle" textLength="31.7" lengthAdjust="spacingAndGlyphs">9'6&quot; X 11'6&quot;</text>
<text x="371" y="584.8" font-size="6.6" font-weight="bold" fill="#2a2a2a" stroke="#2a2a2a" stroke-width="0.2" text-anchor="middle" textLength="21.6" lengthAdjust="spacingAndGlyphs">KITCHEN</text>
<text x="371" y="592.6" font-size="7.4" font-weight="bold" fill="#2a2a2a" stroke="#2a2a2a" stroke-width="0.2" text-anchor="middle" textLength="16" lengthAdjust="spacingAndGlyphs">7'0&quot; X</text>
<text x="371" y="600.6" font-size="7.4" font-weight="bold" fill="#2a2a2a" stroke="#2a2a2a" stroke-width="0.2" text-anchor="middle" textLength="13.3" lengthAdjust="spacingAndGlyphs">11'6&quot;</text>
<text x="404.5" y="600.3" font-size="6.6" font-weight="bold" fill="#2a2a2a" stroke="#2a2a2a" stroke-width="0.2" text-anchor="middle" textLength="16" lengthAdjust="spacingAndGlyphs">LIVING</text>
<text x="404.5" y="608.3" font-size="7.4" font-weight="bold" fill="#2a2a2a" stroke="#2a2a2a" stroke-width="0.2" text-anchor="middle" textLength="32" lengthAdjust="spacingAndGlyphs">9'6&quot; X 14'6&quot;</text>
<text x="344.7" y="618.6" font-size="5.2" font-weight="bold" fill="#2a2a2a" stroke="#2a2a2a" stroke-width="0.2" text-anchor="middle" textLength="6.3" lengthAdjust="spacingAndGlyphs">TOIL.</text>
<text x="344.7" y="624.6" font-size="5.2" font-weight="bold" fill="#2a2a2a" stroke="#2a2a2a" stroke-width="0.2" text-anchor="middle" textLength="20.5" lengthAdjust="spacingAndGlyphs">6'0&quot; X 4'0&quot;</text>
<text x="371.3" y="618.6" font-size="5.2" font-weight="bold" fill="#2a2a2a" stroke="#2a2a2a" stroke-width="0.2" text-anchor="middle" textLength="6.3" lengthAdjust="spacingAndGlyphs">TOIL.</text>
<text x="371.3" y="624.6" font-size="5.2" font-weight="bold" fill="#2a2a2a" stroke="#2a2a2a" stroke-width="0.2" text-anchor="middle" textLength="20.5" lengthAdjust="spacingAndGlyphs">6'0&quot; X 4'0&quot;</text>
<text x="337" y="707.3" font-size="6.6" font-weight="bold" fill="#2a2a2a" stroke="#2a2a2a" stroke-width="0.2" text-anchor="middle" textLength="10" lengthAdjust="spacingAndGlyphs">BED</text>
<text x="337" y="715.3" font-size="7.4" font-weight="bold" fill="#2a2a2a" stroke="#2a2a2a" stroke-width="0.2" text-anchor="middle" textLength="31.7" lengthAdjust="spacingAndGlyphs">9'6&quot; X 11'6&quot;</text>
<text x="371" y="703.5" font-size="6.6" font-weight="bold" fill="#2a2a2a" stroke="#2a2a2a" stroke-width="0.2" text-anchor="middle" textLength="21.6" lengthAdjust="spacingAndGlyphs">KITCHEN</text>
<text x="371" y="711.3" font-size="7.4" font-weight="bold" fill="#2a2a2a" stroke="#2a2a2a" stroke-width="0.2" text-anchor="middle" textLength="16" lengthAdjust="spacingAndGlyphs">7'0&quot; X</text>
<text x="371" y="719.3" font-size="7.4" font-weight="bold" fill="#2a2a2a" stroke="#2a2a2a" stroke-width="0.2" text-anchor="middle" textLength="13.3" lengthAdjust="spacingAndGlyphs">11'6&quot;</text>
<text x="404.5" y="690.4" font-size="6.6" font-weight="bold" fill="#2a2a2a" stroke="#2a2a2a" stroke-width="0.2" text-anchor="middle" textLength="16" lengthAdjust="spacingAndGlyphs">LIVING</text>
<text x="404.5" y="698.4" font-size="7.4" font-weight="bold" fill="#2a2a2a" stroke="#2a2a2a" stroke-width="0.2" text-anchor="middle" textLength="32" lengthAdjust="spacingAndGlyphs">9'6&quot; X 14'6&quot;</text>
<text x="344.7" y="676" font-size="5.2" font-weight="bold" fill="#2a2a2a" stroke="#2a2a2a" stroke-width="0.2" text-anchor="middle" textLength="6.3" lengthAdjust="spacingAndGlyphs">TOIL.</text>
<text x="344.7" y="682" font-size="5.2" font-weight="bold" fill="#2a2a2a" stroke="#2a2a2a" stroke-width="0.2" text-anchor="middle" textLength="20.5" lengthAdjust="spacingAndGlyphs">6'0&quot; X 4'0&quot;</text>
<text x="371.3" y="676" font-size="5.2" font-weight="bold" fill="#2a2a2a" stroke="#2a2a2a" stroke-width="0.2" text-anchor="middle" textLength="6.3" lengthAdjust="spacingAndGlyphs">TOIL.</text>
<text x="371.3" y="682" font-size="5.2" font-weight="bold" fill="#2a2a2a" stroke="#2a2a2a" stroke-width="0.2" text-anchor="middle" textLength="20.5" lengthAdjust="spacingAndGlyphs">6'0&quot; X 4'0&quot;</text>
<text x="510.6" y="583.4" font-size="6.6" font-weight="bold" fill="#2a2a2a" stroke="#2a2a2a" stroke-width="0.2" text-anchor="middle" textLength="10" lengthAdjust="spacingAndGlyphs">BED</text>
<text x="510.6" y="591.4" font-size="7.4" font-weight="bold" fill="#2a2a2a" stroke="#2a2a2a" stroke-width="0.2" text-anchor="middle" textLength="31.7" lengthAdjust="spacingAndGlyphs">9'6&quot; X 11'6&quot;</text>
<text x="476.6" y="584.8" font-size="6.6" font-weight="bold" fill="#2a2a2a" stroke="#2a2a2a" stroke-width="0.2" text-anchor="middle" textLength="21.6" lengthAdjust="spacingAndGlyphs">KITCHEN</text>
<text x="476.6" y="592.6" font-size="7.4" font-weight="bold" fill="#2a2a2a" stroke="#2a2a2a" stroke-width="0.2" text-anchor="middle" textLength="16" lengthAdjust="spacingAndGlyphs">7'0&quot; X</text>
<text x="476.6" y="600.6" font-size="7.4" font-weight="bold" fill="#2a2a2a" stroke="#2a2a2a" stroke-width="0.2" text-anchor="middle" textLength="13.3" lengthAdjust="spacingAndGlyphs">11'6&quot;</text>
<text x="443.1" y="600.3" font-size="6.6" font-weight="bold" fill="#2a2a2a" stroke="#2a2a2a" stroke-width="0.2" text-anchor="middle" textLength="16" lengthAdjust="spacingAndGlyphs">LIVING</text>
<text x="443.1" y="608.3" font-size="7.4" font-weight="bold" fill="#2a2a2a" stroke="#2a2a2a" stroke-width="0.2" text-anchor="middle" textLength="32" lengthAdjust="spacingAndGlyphs">9'6&quot; X 14'6&quot;</text>
<text x="502.9" y="618.6" font-size="5.2" font-weight="bold" fill="#2a2a2a" stroke="#2a2a2a" stroke-width="0.2" text-anchor="middle" textLength="6.3" lengthAdjust="spacingAndGlyphs">TOIL.</text>
<text x="502.9" y="624.6" font-size="5.2" font-weight="bold" fill="#2a2a2a" stroke="#2a2a2a" stroke-width="0.2" text-anchor="middle" textLength="20.5" lengthAdjust="spacingAndGlyphs">6'0&quot; X 4'0&quot;</text>
<text x="476.3" y="618.6" font-size="5.2" font-weight="bold" fill="#2a2a2a" stroke="#2a2a2a" stroke-width="0.2" text-anchor="middle" textLength="6.3" lengthAdjust="spacingAndGlyphs">TOIL.</text>
<text x="476.3" y="624.6" font-size="5.2" font-weight="bold" fill="#2a2a2a" stroke="#2a2a2a" stroke-width="0.2" text-anchor="middle" textLength="20.5" lengthAdjust="spacingAndGlyphs">6'0&quot; X 4'0&quot;</text>
<text x="510.6" y="707.3" font-size="6.6" font-weight="bold" fill="#2a2a2a" stroke="#2a2a2a" stroke-width="0.2" text-anchor="middle" textLength="10" lengthAdjust="spacingAndGlyphs">BED</text>
<text x="510.6" y="715.3" font-size="7.4" font-weight="bold" fill="#2a2a2a" stroke="#2a2a2a" stroke-width="0.2" text-anchor="middle" textLength="31.7" lengthAdjust="spacingAndGlyphs">9'6&quot; X 11'6&quot;</text>
<text x="476.6" y="703.5" font-size="6.6" font-weight="bold" fill="#2a2a2a" stroke="#2a2a2a" stroke-width="0.2" text-anchor="middle" textLength="21.6" lengthAdjust="spacingAndGlyphs">KITCHEN</text>
<text x="476.6" y="711.3" font-size="7.4" font-weight="bold" fill="#2a2a2a" stroke="#2a2a2a" stroke-width="0.2" text-anchor="middle" textLength="16" lengthAdjust="spacingAndGlyphs">7'0&quot; X</text>
<text x="476.6" y="719.3" font-size="7.4" font-weight="bold" fill="#2a2a2a" stroke="#2a2a2a" stroke-width="0.2" text-anchor="middle" textLength="13.3" lengthAdjust="spacingAndGlyphs">11'6&quot;</text>
<text x="443.1" y="690.4" font-size="6.6" font-weight="bold" fill="#2a2a2a" stroke="#2a2a2a" stroke-width="0.2" text-anchor="middle" textLength="16" lengthAdjust="spacingAndGlyphs">LIVING</text>
<text x="443.1" y="698.4" font-size="7.4" font-weight="bold" fill="#2a2a2a" stroke="#2a2a2a" stroke-width="0.2" text-anchor="middle" textLength="32" lengthAdjust="spacingAndGlyphs">9'6&quot; X 14'6&quot;</text>
<text x="502.9" y="676" font-size="5.2" font-weight="bold" fill="#2a2a2a" stroke="#2a2a2a" stroke-width="0.2" text-anchor="middle" textLength="6.3" lengthAdjust="spacingAndGlyphs">TOIL.</text>
<text x="502.9" y="682" font-size="5.2" font-weight="bold" fill="#2a2a2a" stroke="#2a2a2a" stroke-width="0.2" text-anchor="middle" textLength="20.5" lengthAdjust="spacingAndGlyphs">6'0&quot; X 4'0&quot;</text>
<text x="476.3" y="676" font-size="5.2" font-weight="bold" fill="#2a2a2a" stroke="#2a2a2a" stroke-width="0.2" text-anchor="middle" textLength="6.3" lengthAdjust="spacingAndGlyphs">TOIL.</text>
<text x="476.3" y="682" font-size="5.2" font-weight="bold" fill="#2a2a2a" stroke="#2a2a2a" stroke-width="0.2" text-anchor="middle" textLength="20.5" lengthAdjust="spacingAndGlyphs">6'0&quot; X 4'0&quot;</text>
<text x="450.9" y="635.8" font-size="4.8" font-weight="bold" fill="#2a2a2a" stroke="#2a2a2a" stroke-width="0.2" text-anchor="middle" textLength="9" lengthAdjust="spacingAndGlyphs">LIFT</text>
<text x="450.9" y="642" font-size="4.8" font-weight="bold" fill="#2a2a2a" stroke="#2a2a2a" stroke-width="0.2" text-anchor="middle" textLength="12.8" lengthAdjust="spacingAndGlyphs">5'0&quot; X</text>
<text x="450.9" y="647.9" font-size="4.8" font-weight="bold" fill="#2a2a2a" stroke="#2a2a2a" stroke-width="0.2" text-anchor="middle" textLength="9" lengthAdjust="spacingAndGlyphs">5'0&quot;</text>
<path d="M742.7,557 L742.7,610.6" fill="none" stroke="#0c0c0c" stroke-width="1.8" stroke-linecap="square" stroke-linejoin="miter"/>
<path d="M742.7,565.4 L704.4,565.4" fill="none" stroke="#0c0c0c" stroke-width="1.8" stroke-linecap="square" stroke-linejoin="miter"/>
<line x1="735.4" y1="565.4" x2="711.4" y2="565.4" stroke="#7c7c7c" stroke-width="2.0" stroke-linecap="butt"/>
<line x1="742.7" y1="557.8" x2="704.4" y2="557.8" stroke="#929292" stroke-width="0.8" stroke-linecap="butt"/>
<path d="M704.4,556 L704.4,599.5" fill="none" stroke="#0c0c0c" stroke-width="1.8" stroke-linecap="square" stroke-linejoin="miter"/>
<path d="M675.4,556 L675.4,597" fill="none" stroke="#0c0c0c" stroke-width="1.8" stroke-linecap="square" stroke-linejoin="miter"/>
<path d="M704.4,556 L675.4,556" fill="none" stroke="#0c0c0c" stroke-width="1.8" stroke-linecap="square" stroke-linejoin="miter"/>
<path d="M704.4,565.4 L675.4,565.4" fill="none" stroke="#0c0c0c" stroke-width="1.8" stroke-linecap="square" stroke-linejoin="miter"/>
<line x1="698.4" y1="565.4" x2="680.4" y2="565.4" stroke="#7c7c7c" stroke-width="2.0" stroke-linecap="butt"/>
<line x1="698.4" y1="556" x2="680.4" y2="556" stroke="#7c7c7c" stroke-width="2.0" stroke-linecap="butt"/>
<text x="689.9" y="561.9" font-size="3.4" font-weight="bold" fill="#555" text-anchor="middle" textLength="17" lengthAdjust="spacingAndGlyphs">DUCT SHAFT</text>
<path d="M742.7,610.6 L716.4,610.6" fill="none" stroke="#0c0c0c" stroke-width="1.8" stroke-linecap="square" stroke-linejoin="miter"/>
<path d="M712.1,610.6 L685.7,610.6" fill="none" stroke="#0c0c0c" stroke-width="1.8" stroke-linecap="square" stroke-linejoin="miter"/>
<path d="M716.4,610.6 A12,12 0 0 0 704.4,598.6" fill="none" stroke="#a8a8a8" stroke-width="0.6"/>
<path d="M730,610.6 L730,628.5 L675.4,628.5" fill="none" stroke="#0c0c0c" stroke-width="1.8" stroke-linecap="square" stroke-linejoin="miter"/>
<path d="M702.7,610.6 L702.7,628.5" fill="none" stroke="#0c0c0c" stroke-width="1.8" stroke-linecap="square" stroke-linejoin="miter"/>
<line x1="720.4" y1="628.5" x2="712.4" y2="628.5" stroke="#7c7c7c" stroke-width="2.0" stroke-linecap="butt"/>
<line x1="694.4" y1="628.5" x2="686.4" y2="628.5" stroke="#7c7c7c" stroke-width="2.0" stroke-linecap="butt"/>
<path d="M675.4,612 L675.4,628.5" fill="none" stroke="#0c0c0c" stroke-width="1.8" stroke-linecap="square" stroke-linejoin="miter"/>
<path d="M675.4,570.2 L636.6,570.2" fill="none" stroke="#0c0c0c" stroke-width="1.8" stroke-linecap="square" stroke-linejoin="miter"/>
<line x1="667.4" y1="570.2" x2="644.4" y2="570.2" stroke="#7c7c7c" stroke-width="2.0" stroke-linecap="butt"/>
<line x1="675.4" y1="561.7" x2="636.6" y2="561.7" stroke="#929292" stroke-width="0.8" stroke-linecap="butt"/>
<path d="M636.6,562 L636.6,628.5" fill="none" stroke="#0c0c0c" stroke-width="1.8" stroke-linecap="square" stroke-linejoin="miter"/>
<path d="M742.7,739.8 L742.7,686.2" fill="none" stroke="#0c0c0c" stroke-width="1.8" stroke-linecap="square" stroke-linejoin="miter"/>
<path d="M742.7,731.4 L704.4,731.4" fill="none" stroke="#0c0c0c" stroke-width="1.8" stroke-linecap="square" stroke-linejoin="miter"/>
<line x1="735.4" y1="731.4" x2="711.4" y2="731.4" stroke="#7c7c7c" stroke-width="2.0" stroke-linecap="butt"/>
<line x1="742.7" y1="739" x2="704.4" y2="739" stroke="#929292" stroke-width="0.8" stroke-linecap="butt"/>
<path d="M704.4,740.8 L704.4,697.3" fill="none" stroke="#0c0c0c" stroke-width="1.8" stroke-linecap="square" stroke-linejoin="miter"/>
<path d="M675.4,740.8 L675.4,699.8" fill="none" stroke="#0c0c0c" stroke-width="1.8" stroke-linecap="square" stroke-linejoin="miter"/>
<path d="M704.4,740.8 L675.4,740.8" fill="none" stroke="#0c0c0c" stroke-width="1.8" stroke-linecap="square" stroke-linejoin="miter"/>
<path d="M704.4,731.4 L675.4,731.4" fill="none" stroke="#0c0c0c" stroke-width="1.8" stroke-linecap="square" stroke-linejoin="miter"/>
<line x1="698.4" y1="731.4" x2="680.4" y2="731.4" stroke="#7c7c7c" stroke-width="2.0" stroke-linecap="butt"/>
<line x1="698.4" y1="740.8" x2="680.4" y2="740.8" stroke="#7c7c7c" stroke-width="2.0" stroke-linecap="butt"/>
<text x="689.9" y="737.3" font-size="3.4" font-weight="bold" fill="#555" text-anchor="middle" textLength="17" lengthAdjust="spacingAndGlyphs">DUCT SHAFT</text>
<path d="M742.7,686.2 L716.4,686.2" fill="none" stroke="#0c0c0c" stroke-width="1.8" stroke-linecap="square" stroke-linejoin="miter"/>
<path d="M712.1,686.2 L685.7,686.2" fill="none" stroke="#0c0c0c" stroke-width="1.8" stroke-linecap="square" stroke-linejoin="miter"/>
<path d="M716.4,686.2 A12,12 0 0 1 704.4,698.2" fill="none" stroke="#a8a8a8" stroke-width="0.6"/>
<path d="M730,686.2 L730,668.3 L675.4,668.3" fill="none" stroke="#0c0c0c" stroke-width="1.8" stroke-linecap="square" stroke-linejoin="miter"/>
<path d="M702.7,686.2 L702.7,668.3" fill="none" stroke="#0c0c0c" stroke-width="1.8" stroke-linecap="square" stroke-linejoin="miter"/>
<line x1="720.4" y1="668.3" x2="712.4" y2="668.3" stroke="#7c7c7c" stroke-width="2.0" stroke-linecap="butt"/>
<line x1="694.4" y1="668.3" x2="686.4" y2="668.3" stroke="#7c7c7c" stroke-width="2.0" stroke-linecap="butt"/>
<path d="M675.4,684.8 L675.4,668.3" fill="none" stroke="#0c0c0c" stroke-width="1.8" stroke-linecap="square" stroke-linejoin="miter"/>
<path d="M675.4,726.6 L636.6,726.6" fill="none" stroke="#0c0c0c" stroke-width="1.8" stroke-linecap="square" stroke-linejoin="miter"/>
<line x1="667.4" y1="726.6" x2="644.4" y2="726.6" stroke="#7c7c7c" stroke-width="2.0" stroke-linecap="butt"/>
<line x1="675.4" y1="735.1" x2="636.6" y2="735.1" stroke="#929292" stroke-width="0.8" stroke-linecap="butt"/>
<path d="M636.6,734.8 L636.6,668.3" fill="none" stroke="#0c0c0c" stroke-width="1.8" stroke-linecap="square" stroke-linejoin="miter"/>
<path d="M530.5,557 L530.5,610.6" fill="none" stroke="#0c0c0c" stroke-width="1.8" stroke-linecap="square" stroke-linejoin="miter"/>
<path d="M530.5,565.4 L568.8,565.4" fill="none" stroke="#0c0c0c" stroke-width="1.8" stroke-linecap="square" stroke-linejoin="miter"/>
<line x1="537.8" y1="565.4" x2="561.8" y2="565.4" stroke="#7c7c7c" stroke-width="2.0" stroke-linecap="butt"/>
<line x1="530.5" y1="557.8" x2="568.8" y2="557.8" stroke="#929292" stroke-width="0.8" stroke-linecap="butt"/>
<path d="M568.8,556 L568.8,599.5" fill="none" stroke="#0c0c0c" stroke-width="1.8" stroke-linecap="square" stroke-linejoin="miter"/>
<path d="M597.8,556 L597.8,597" fill="none" stroke="#0c0c0c" stroke-width="1.8" stroke-linecap="square" stroke-linejoin="miter"/>
<path d="M568.8,556 L597.8,556" fill="none" stroke="#0c0c0c" stroke-width="1.8" stroke-linecap="square" stroke-linejoin="miter"/>
<path d="M568.8,565.4 L597.8,565.4" fill="none" stroke="#0c0c0c" stroke-width="1.8" stroke-linecap="square" stroke-linejoin="miter"/>
<line x1="574.8" y1="565.4" x2="592.8" y2="565.4" stroke="#7c7c7c" stroke-width="2.0" stroke-linecap="butt"/>
<line x1="574.8" y1="556" x2="592.8" y2="556" stroke="#7c7c7c" stroke-width="2.0" stroke-linecap="butt"/>
<text x="583.3" y="561.9" font-size="3.4" font-weight="bold" fill="#555" text-anchor="middle" textLength="17" lengthAdjust="spacingAndGlyphs">DUCT SHAFT</text>
<path d="M530.5,610.6 L556.8,610.6" fill="none" stroke="#0c0c0c" stroke-width="1.8" stroke-linecap="square" stroke-linejoin="miter"/>
<path d="M561.1,610.6 L587.5,610.6" fill="none" stroke="#0c0c0c" stroke-width="1.8" stroke-linecap="square" stroke-linejoin="miter"/>
<path d="M556.8,610.6 A12,12 0 0 1 568.8,598.6" fill="none" stroke="#a8a8a8" stroke-width="0.6"/>
<path d="M543.2,610.6 L543.2,628.5 L597.8,628.5" fill="none" stroke="#0c0c0c" stroke-width="1.8" stroke-linecap="square" stroke-linejoin="miter"/>
<path d="M570.5,610.6 L570.5,628.5" fill="none" stroke="#0c0c0c" stroke-width="1.8" stroke-linecap="square" stroke-linejoin="miter"/>
<line x1="552.8" y1="628.5" x2="560.8" y2="628.5" stroke="#7c7c7c" stroke-width="2.0" stroke-linecap="butt"/>
<line x1="578.8" y1="628.5" x2="586.8" y2="628.5" stroke="#7c7c7c" stroke-width="2.0" stroke-linecap="butt"/>
<path d="M597.8,612 L597.8,628.5" fill="none" stroke="#0c0c0c" stroke-width="1.8" stroke-linecap="square" stroke-linejoin="miter"/>
<path d="M597.8,570.2 L636.6,570.2" fill="none" stroke="#0c0c0c" stroke-width="1.8" stroke-linecap="square" stroke-linejoin="miter"/>
<line x1="605.8" y1="570.2" x2="628.8" y2="570.2" stroke="#7c7c7c" stroke-width="2.0" stroke-linecap="butt"/>
<line x1="597.8" y1="561.7" x2="636.6" y2="561.7" stroke="#929292" stroke-width="0.8" stroke-linecap="butt"/>
<path d="M636.6,562 L636.6,628.5" fill="none" stroke="#0c0c0c" stroke-width="1.8" stroke-linecap="square" stroke-linejoin="miter"/>
<path d="M530.5,739.8 L530.5,686.2" fill="none" stroke="#0c0c0c" stroke-width="1.8" stroke-linecap="square" stroke-linejoin="miter"/>
<path d="M530.5,731.4 L568.8,731.4" fill="none" stroke="#0c0c0c" stroke-width="1.8" stroke-linecap="square" stroke-linejoin="miter"/>
<line x1="537.8" y1="731.4" x2="561.8" y2="731.4" stroke="#7c7c7c" stroke-width="2.0" stroke-linecap="butt"/>
<line x1="530.5" y1="739" x2="568.8" y2="739" stroke="#929292" stroke-width="0.8" stroke-linecap="butt"/>
<path d="M568.8,740.8 L568.8,697.3" fill="none" stroke="#0c0c0c" stroke-width="1.8" stroke-linecap="square" stroke-linejoin="miter"/>
<path d="M597.8,740.8 L597.8,699.8" fill="none" stroke="#0c0c0c" stroke-width="1.8" stroke-linecap="square" stroke-linejoin="miter"/>
<path d="M568.8,740.8 L597.8,740.8" fill="none" stroke="#0c0c0c" stroke-width="1.8" stroke-linecap="square" stroke-linejoin="miter"/>
<path d="M568.8,731.4 L597.8,731.4" fill="none" stroke="#0c0c0c" stroke-width="1.8" stroke-linecap="square" stroke-linejoin="miter"/>
<line x1="574.8" y1="731.4" x2="592.8" y2="731.4" stroke="#7c7c7c" stroke-width="2.0" stroke-linecap="butt"/>
<line x1="574.8" y1="740.8" x2="592.8" y2="740.8" stroke="#7c7c7c" stroke-width="2.0" stroke-linecap="butt"/>
<text x="583.3" y="737.3" font-size="3.4" font-weight="bold" fill="#555" text-anchor="middle" textLength="17" lengthAdjust="spacingAndGlyphs">DUCT SHAFT</text>
<path d="M530.5,686.2 L556.8,686.2" fill="none" stroke="#0c0c0c" stroke-width="1.8" stroke-linecap="square" stroke-linejoin="miter"/>
<path d="M561.1,686.2 L587.5,686.2" fill="none" stroke="#0c0c0c" stroke-width="1.8" stroke-linecap="square" stroke-linejoin="miter"/>
<path d="M556.8,686.2 A12,12 0 0 0 568.8,698.2" fill="none" stroke="#a8a8a8" stroke-width="0.6"/>
<path d="M543.2,686.2 L543.2,668.3 L597.8,668.3" fill="none" stroke="#0c0c0c" stroke-width="1.8" stroke-linecap="square" stroke-linejoin="miter"/>
<path d="M570.5,686.2 L570.5,668.3" fill="none" stroke="#0c0c0c" stroke-width="1.8" stroke-linecap="square" stroke-linejoin="miter"/>
<line x1="552.8" y1="668.3" x2="560.8" y2="668.3" stroke="#7c7c7c" stroke-width="2.0" stroke-linecap="butt"/>
<line x1="578.8" y1="668.3" x2="586.8" y2="668.3" stroke="#7c7c7c" stroke-width="2.0" stroke-linecap="butt"/>
<path d="M597.8,684.8 L597.8,668.3" fill="none" stroke="#0c0c0c" stroke-width="1.8" stroke-linecap="square" stroke-linejoin="miter"/>
<path d="M597.8,726.6 L636.6,726.6" fill="none" stroke="#0c0c0c" stroke-width="1.8" stroke-linecap="square" stroke-linejoin="miter"/>
<line x1="605.8" y1="726.6" x2="628.8" y2="726.6" stroke="#7c7c7c" stroke-width="2.0" stroke-linecap="butt"/>
<line x1="597.8" y1="735.1" x2="636.6" y2="735.1" stroke="#929292" stroke-width="0.8" stroke-linecap="butt"/>
<path d="M636.6,734.8 L636.6,668.3" fill="none" stroke="#0c0c0c" stroke-width="1.8" stroke-linecap="square" stroke-linejoin="miter"/>
<path d="M692.4,628.5 L692.4,667.7 L649.9,667.7" fill="none" stroke="#0c0c0c" stroke-width="1.8" stroke-linecap="square" stroke-linejoin="miter"/>
<path d="M692.4,628.5 L649.9,628.5" fill="none" stroke="#0c0c0c" stroke-width="1.8" stroke-linecap="square" stroke-linejoin="miter"/>
<line x1="692.4" y1="636" x2="692.4" y2="660" stroke="#7c7c7c" stroke-width="2.0" stroke-linecap="butt"/>
<line x1="672.9" y1="628.5" x2="672.9" y2="644.8" stroke="#747474" stroke-width="0.8" stroke-linecap="butt"/>
<line x1="672.9" y1="651.6" x2="672.9" y2="667.7" stroke="#747474" stroke-width="0.8" stroke-linecap="butt"/>
<line x1="669.7" y1="628.5" x2="669.7" y2="644.8" stroke="#747474" stroke-width="0.8" stroke-linecap="butt"/>
<line x1="669.7" y1="651.6" x2="669.7" y2="667.7" stroke="#747474" stroke-width="0.8" stroke-linecap="butt"/>
<line x1="666.5" y1="628.5" x2="666.5" y2="644.8" stroke="#747474" stroke-width="0.8" stroke-linecap="butt"/>
<line x1="666.5" y1="651.6" x2="666.5" y2="667.7" stroke="#747474" stroke-width="0.8" stroke-linecap="butt"/>
<line x1="663.3" y1="628.5" x2="663.3" y2="644.8" stroke="#747474" stroke-width="0.8" stroke-linecap="butt"/>
<line x1="663.3" y1="651.6" x2="663.3" y2="667.7" stroke="#747474" stroke-width="0.8" stroke-linecap="butt"/>
<line x1="660.1" y1="628.5" x2="660.1" y2="644.8" stroke="#747474" stroke-width="0.8" stroke-linecap="butt"/>
<line x1="660.1" y1="651.6" x2="660.1" y2="667.7" stroke="#747474" stroke-width="0.8" stroke-linecap="butt"/>
<line x1="656.9" y1="628.5" x2="656.9" y2="644.8" stroke="#747474" stroke-width="0.8" stroke-linecap="butt"/>
<line x1="656.9" y1="651.6" x2="656.9" y2="667.7" stroke="#747474" stroke-width="0.8" stroke-linecap="butt"/>
<line x1="653.7" y1="628.5" x2="653.7" y2="644.8" stroke="#747474" stroke-width="0.8" stroke-linecap="butt"/>
<line x1="653.7" y1="651.6" x2="653.7" y2="667.7" stroke="#747474" stroke-width="0.8" stroke-linecap="butt"/>
<line x1="650.5" y1="628.5" x2="650.5" y2="644.8" stroke="#747474" stroke-width="0.8" stroke-linecap="butt"/>
<line x1="650.5" y1="651.6" x2="650.5" y2="667.7" stroke="#747474" stroke-width="0.8" stroke-linecap="butt"/>
<line x1="692.4" y1="644.8" x2="672.9" y2="644.8" stroke="#747474" stroke-width="0.7" stroke-linecap="butt"/>
<line x1="692.4" y1="646.6" x2="672.9" y2="646.6" stroke="#747474" stroke-width="0.7" stroke-linecap="butt"/>
<line x1="692.4" y1="649.8" x2="672.9" y2="649.8" stroke="#747474" stroke-width="0.7" stroke-linecap="butt"/>
<line x1="692.4" y1="651.6" x2="672.9" y2="651.6" stroke="#747474" stroke-width="0.7" stroke-linecap="butt"/>
<rect x="651.4" y="644.8" width="21.5" height="6.8" fill="none" stroke="#555" stroke-width="0.9"/>
<line x1="650.4" y1="628.5" x2="650.4" y2="667.7" stroke="#777" stroke-width="1.0" stroke-linecap="butt"/>
<path d="M621.4,628.5 L621.4,633" fill="none" stroke="#0c0c0c" stroke-width="1.8" stroke-linecap="square" stroke-linejoin="miter"/>
<path d="M621.4,646 L621.4,666.8 L598.1,666.8" fill="none" stroke="#0c0c0c" stroke-width="1.8" stroke-linecap="square" stroke-linejoin="miter"/>
<path d="M621.4,628.5 L598.1,628.5" fill="none" stroke="#0c0c0c" stroke-width="1.8" stroke-linecap="square" stroke-linejoin="miter"/>
<path d="M621.4,651.5 L598.1,651.5" fill="none" stroke="#0c0c0c" stroke-width="1.8" stroke-linecap="square" stroke-linejoin="miter"/>
<path d="M598.1,628.5 L598.1,668.4" fill="none" stroke="#0c0c0c" stroke-width="1.8" stroke-linecap="square" stroke-linejoin="miter"/>
<line x1="618.4" y1="654.5" x2="601.4" y2="664" stroke="#a0a0a0" stroke-width="0.5" stroke-linecap="butt"/>
<line x1="601.4" y1="654.5" x2="618.4" y2="664" stroke="#a0a0a0" stroke-width="0.5" stroke-linecap="butt"/>
<circle cx="643.9" cy="623.7" r="3.4" fill="#e9d9d3" stroke="#e49a82" stroke-width="0.8"/>
<circle cx="627.6" cy="623.7" r="3.4" fill="#e9d9d3" stroke="#e49a82" stroke-width="0.8"/>
<circle cx="643.9" cy="673.2" r="3.4" fill="#e9d9d3" stroke="#e49a82" stroke-width="0.8"/>
<circle cx="627.6" cy="673.2" r="3.4" fill="#e9d9d3" stroke="#e49a82" stroke-width="0.8"/>
<text x="723.4" y="583.4" font-size="6.6" font-weight="bold" fill="#2a2a2a" stroke="#2a2a2a" stroke-width="0.2" text-anchor="middle" textLength="10" lengthAdjust="spacingAndGlyphs">BED</text>
<text x="723.4" y="591.4" font-size="7.4" font-weight="bold" fill="#2a2a2a" stroke="#2a2a2a" stroke-width="0.2" text-anchor="middle" textLength="31.7" lengthAdjust="spacingAndGlyphs">9'6&quot; X 11'6&quot;</text>
<text x="689.4" y="584.8" font-size="6.6" font-weight="bold" fill="#2a2a2a" stroke="#2a2a2a" stroke-width="0.2" text-anchor="middle" textLength="21.6" lengthAdjust="spacingAndGlyphs">KITCHEN</text>
<text x="689.4" y="592.6" font-size="7.4" font-weight="bold" fill="#2a2a2a" stroke="#2a2a2a" stroke-width="0.2" text-anchor="middle" textLength="16" lengthAdjust="spacingAndGlyphs">7'0&quot; X</text>
<text x="689.4" y="600.6" font-size="7.4" font-weight="bold" fill="#2a2a2a" stroke="#2a2a2a" stroke-width="0.2" text-anchor="middle" textLength="13.3" lengthAdjust="spacingAndGlyphs">11'6&quot;</text>
<text x="655.9" y="600.3" font-size="6.6" font-weight="bold" fill="#2a2a2a" stroke="#2a2a2a" stroke-width="0.2" text-anchor="middle" textLength="16" lengthAdjust="spacingAndGlyphs">LIVING</text>
<text x="655.9" y="608.3" font-size="7.4" font-weight="bold" fill="#2a2a2a" stroke="#2a2a2a" stroke-width="0.2" text-anchor="middle" textLength="32" lengthAdjust="spacingAndGlyphs">9'6&quot; X 14'6&quot;</text>
<text x="715.7" y="618.6" font-size="5.2" font-weight="bold" fill="#2a2a2a" stroke="#2a2a2a" stroke-width="0.2" text-anchor="middle" textLength="6.3" lengthAdjust="spacingAndGlyphs">TOIL.</text>
<text x="715.7" y="624.6" font-size="5.2" font-weight="bold" fill="#2a2a2a" stroke="#2a2a2a" stroke-width="0.2" text-anchor="middle" textLength="20.5" lengthAdjust="spacingAndGlyphs">6'0&quot; X 4'0&quot;</text>
<text x="689.1" y="618.6" font-size="5.2" font-weight="bold" fill="#2a2a2a" stroke="#2a2a2a" stroke-width="0.2" text-anchor="middle" textLength="6.3" lengthAdjust="spacingAndGlyphs">TOIL.</text>
<text x="689.1" y="624.6" font-size="5.2" font-weight="bold" fill="#2a2a2a" stroke="#2a2a2a" stroke-width="0.2" text-anchor="middle" textLength="20.5" lengthAdjust="spacingAndGlyphs">6'0&quot; X 4'0&quot;</text>
<text x="723.4" y="707.3" font-size="6.6" font-weight="bold" fill="#2a2a2a" stroke="#2a2a2a" stroke-width="0.2" text-anchor="middle" textLength="10" lengthAdjust="spacingAndGlyphs">BED</text>
<text x="723.4" y="715.3" font-size="7.4" font-weight="bold" fill="#2a2a2a" stroke="#2a2a2a" stroke-width="0.2" text-anchor="middle" textLength="31.7" lengthAdjust="spacingAndGlyphs">9'6&quot; X 11'6&quot;</text>
<text x="689.4" y="703.5" font-size="6.6" font-weight="bold" fill="#2a2a2a" stroke="#2a2a2a" stroke-width="0.2" text-anchor="middle" textLength="21.6" lengthAdjust="spacingAndGlyphs">KITCHEN</text>
<text x="689.4" y="711.3" font-size="7.4" font-weight="bold" fill="#2a2a2a" stroke="#2a2a2a" stroke-width="0.2" text-anchor="middle" textLength="16" lengthAdjust="spacingAndGlyphs">7'0&quot; X</text>
<text x="689.4" y="719.3" font-size="7.4" font-weight="bold" fill="#2a2a2a" stroke="#2a2a2a" stroke-width="0.2" text-anchor="middle" textLength="13.3" lengthAdjust="spacingAndGlyphs">11'6&quot;</text>
<text x="655.9" y="690.4" font-size="6.6" font-weight="bold" fill="#2a2a2a" stroke="#2a2a2a" stroke-width="0.2" text-anchor="middle" textLength="16" lengthAdjust="spacingAndGlyphs">LIVING</text>
<text x="655.9" y="698.4" font-size="7.4" font-weight="bold" fill="#2a2a2a" stroke="#2a2a2a" stroke-width="0.2" text-anchor="middle" textLength="32" lengthAdjust="spacingAndGlyphs">9'6&quot; X 14'6&quot;</text>
<text x="715.7" y="676" font-size="5.2" font-weight="bold" fill="#2a2a2a" stroke="#2a2a2a" stroke-width="0.2" text-anchor="middle" textLength="6.3" lengthAdjust="spacingAndGlyphs">TOIL.</text>
<text x="715.7" y="682" font-size="5.2" font-weight="bold" fill="#2a2a2a" stroke="#2a2a2a" stroke-width="0.2" text-anchor="middle" textLength="20.5" lengthAdjust="spacingAndGlyphs">6'0&quot; X 4'0&quot;</text>
<text x="689.1" y="676" font-size="5.2" font-weight="bold" fill="#2a2a2a" stroke="#2a2a2a" stroke-width="0.2" text-anchor="middle" textLength="6.3" lengthAdjust="spacingAndGlyphs">TOIL.</text>
<text x="689.1" y="682" font-size="5.2" font-weight="bold" fill="#2a2a2a" stroke="#2a2a2a" stroke-width="0.2" text-anchor="middle" textLength="20.5" lengthAdjust="spacingAndGlyphs">6'0&quot; X 4'0&quot;</text>
<text x="549.8" y="583.4" font-size="6.6" font-weight="bold" fill="#2a2a2a" stroke="#2a2a2a" stroke-width="0.2" text-anchor="middle" textLength="10" lengthAdjust="spacingAndGlyphs">BED</text>
<text x="549.8" y="591.4" font-size="7.4" font-weight="bold" fill="#2a2a2a" stroke="#2a2a2a" stroke-width="0.2" text-anchor="middle" textLength="31.7" lengthAdjust="spacingAndGlyphs">9'6&quot; X 11'6&quot;</text>
<text x="583.8" y="584.8" font-size="6.6" font-weight="bold" fill="#2a2a2a" stroke="#2a2a2a" stroke-width="0.2" text-anchor="middle" textLength="21.6" lengthAdjust="spacingAndGlyphs">KITCHEN</text>
<text x="583.8" y="592.6" font-size="7.4" font-weight="bold" fill="#2a2a2a" stroke="#2a2a2a" stroke-width="0.2" text-anchor="middle" textLength="16" lengthAdjust="spacingAndGlyphs">7'0&quot; X</text>
<text x="583.8" y="600.6" font-size="7.4" font-weight="bold" fill="#2a2a2a" stroke="#2a2a2a" stroke-width="0.2" text-anchor="middle" textLength="13.3" lengthAdjust="spacingAndGlyphs">11'6&quot;</text>
<text x="617.3" y="600.3" font-size="6.6" font-weight="bold" fill="#2a2a2a" stroke="#2a2a2a" stroke-width="0.2" text-anchor="middle" textLength="16" lengthAdjust="spacingAndGlyphs">LIVING</text>
<text x="617.3" y="608.3" font-size="7.4" font-weight="bold" fill="#2a2a2a" stroke="#2a2a2a" stroke-width="0.2" text-anchor="middle" textLength="32" lengthAdjust="spacingAndGlyphs">9'6&quot; X 14'6&quot;</text>
<text x="557.5" y="618.6" font-size="5.2" font-weight="bold" fill="#2a2a2a" stroke="#2a2a2a" stroke-width="0.2" text-anchor="middle" textLength="6.3" lengthAdjust="spacingAndGlyphs">TOIL.</text>
<text x="557.5" y="624.6" font-size="5.2" font-weight="bold" fill="#2a2a2a" stroke="#2a2a2a" stroke-width="0.2" text-anchor="middle" textLength="20.5" lengthAdjust="spacingAndGlyphs">6'0&quot; X 4'0&quot;</text>
<text x="584.1" y="618.6" font-size="5.2" font-weight="bold" fill="#2a2a2a" stroke="#2a2a2a" stroke-width="0.2" text-anchor="middle" textLength="6.3" lengthAdjust="spacingAndGlyphs">TOIL.</text>
<text x="584.1" y="624.6" font-size="5.2" font-weight="bold" fill="#2a2a2a" stroke="#2a2a2a" stroke-width="0.2" text-anchor="middle" textLength="20.5" lengthAdjust="spacingAndGlyphs">6'0&quot; X 4'0&quot;</text>
<text x="549.8" y="707.3" font-size="6.6" font-weight="bold" fill="#2a2a2a" stroke="#2a2a2a" stroke-width="0.2" text-anchor="middle" textLength="10" lengthAdjust="spacingAndGlyphs">BED</text>
<text x="549.8" y="715.3" font-size="7.4" font-weight="bold" fill="#2a2a2a" stroke="#2a2a2a" stroke-width="0.2" text-anchor="middle" textLength="31.7" lengthAdjust="spacingAndGlyphs">9'6&quot; X 11'6&quot;</text>
<text x="583.8" y="703.5" font-size="6.6" font-weight="bold" fill="#2a2a2a" stroke="#2a2a2a" stroke-width="0.2" text-anchor="middle" textLength="21.6" lengthAdjust="spacingAndGlyphs">KITCHEN</text>
<text x="583.8" y="711.3" font-size="7.4" font-weight="bold" fill="#2a2a2a" stroke="#2a2a2a" stroke-width="0.2" text-anchor="middle" textLength="16" lengthAdjust="spacingAndGlyphs">7'0&quot; X</text>
<text x="583.8" y="719.3" font-size="7.4" font-weight="bold" fill="#2a2a2a" stroke="#2a2a2a" stroke-width="0.2" text-anchor="middle" textLength="13.3" lengthAdjust="spacingAndGlyphs">11'6&quot;</text>
<text x="617.3" y="690.4" font-size="6.6" font-weight="bold" fill="#2a2a2a" stroke="#2a2a2a" stroke-width="0.2" text-anchor="middle" textLength="16" lengthAdjust="spacingAndGlyphs">LIVING</text>
<text x="617.3" y="698.4" font-size="7.4" font-weight="bold" fill="#2a2a2a" stroke="#2a2a2a" stroke-width="0.2" text-anchor="middle" textLength="32" lengthAdjust="spacingAndGlyphs">9'6&quot; X 14'6&quot;</text>
<text x="557.5" y="676" font-size="5.2" font-weight="bold" fill="#2a2a2a" stroke="#2a2a2a" stroke-width="0.2" text-anchor="middle" textLength="6.3" lengthAdjust="spacingAndGlyphs">TOIL.</text>
<text x="557.5" y="682" font-size="5.2" font-weight="bold" fill="#2a2a2a" stroke="#2a2a2a" stroke-width="0.2" text-anchor="middle" textLength="20.5" lengthAdjust="spacingAndGlyphs">6'0&quot; X 4'0&quot;</text>
<text x="584.1" y="676" font-size="5.2" font-weight="bold" fill="#2a2a2a" stroke="#2a2a2a" stroke-width="0.2" text-anchor="middle" textLength="6.3" lengthAdjust="spacingAndGlyphs">TOIL.</text>
<text x="584.1" y="682" font-size="5.2" font-weight="bold" fill="#2a2a2a" stroke="#2a2a2a" stroke-width="0.2" text-anchor="middle" textLength="20.5" lengthAdjust="spacingAndGlyphs">6'0&quot; X 4'0&quot;</text>
<text x="609.5" y="635.8" font-size="4.8" font-weight="bold" fill="#2a2a2a" stroke="#2a2a2a" stroke-width="0.2" text-anchor="middle" textLength="9" lengthAdjust="spacingAndGlyphs">LIFT</text>
<text x="609.5" y="642" font-size="4.8" font-weight="bold" fill="#2a2a2a" stroke="#2a2a2a" stroke-width="0.2" text-anchor="middle" textLength="12.8" lengthAdjust="spacingAndGlyphs">5'0&quot; X</text>
<text x="609.5" y="647.9" font-size="4.8" font-weight="bold" fill="#2a2a2a" stroke="#2a2a2a" stroke-width="0.2" text-anchor="middle" textLength="9" lengthAdjust="spacingAndGlyphs">5'0&quot;</text>
</svg>
</body></html>
